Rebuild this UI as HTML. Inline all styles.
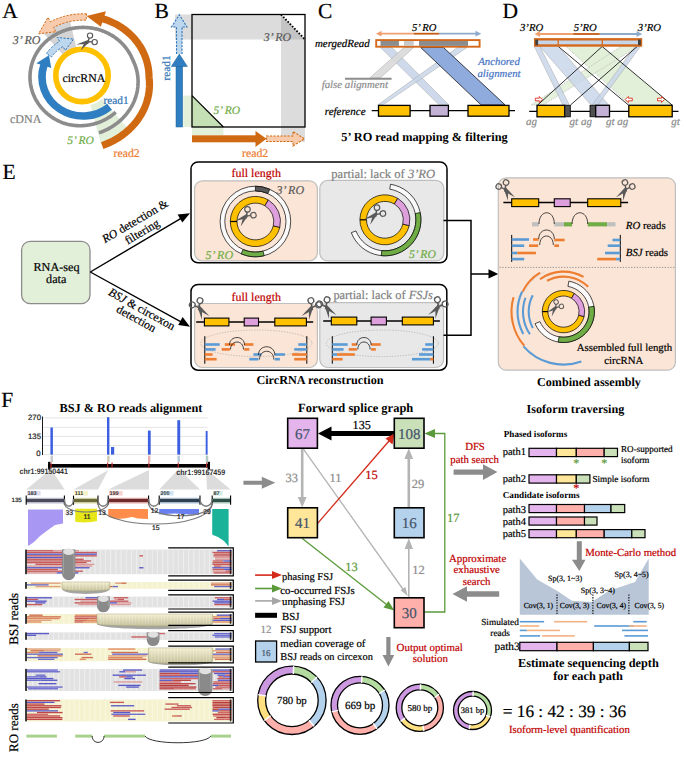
<!DOCTYPE html>
<html><head><meta charset="utf-8"><style>
html,body{margin:0;padding:0;background:#fff;width:686px;height:757px;overflow:hidden}
svg{display:block}
text{text-rendering:geometricPrecision}
</style></head><body>
<svg width="686" height="757" viewBox="0 0 686 757">
<defs>
<linearGradient id="ysemi" x1="0" y1="0" x2="0" y2="1"><stop offset="0" stop-color="#f3efcf"/><stop offset="1" stop-color="#c2be98"/></linearGradient>
<linearGradient id="gsemi" x1="0" y1="0" x2="0" y2="1"><stop offset="0" stop-color="#9a9a8a"/><stop offset="1" stop-color="#a6a6a6"/></linearGradient>
</defs>
<text stroke="#000" stroke-width="0.2" x="2.3" y="17.5" font-family="Liberation Serif" font-size="21.5">A</text>
<path d="M42.85,32.41 A60,60 0 0 1 69.50,18.54 L76.48,48.74 A29,29 0 0 0 63.60,55.45Z" fill="#d4d4d4"/>
<path d="M128.92,129.83 A70,70 0 0 1 101.12,144.61 L90.51,105.01 A29,29 0 0 0 102.03,98.89Z" fill="#e2f0d9"/>
<path d="M115.68,112.19 L115.06,112.75 L114.42,113.31 L113.77,113.86 L113.11,114.39 L112.44,114.92 L111.75,115.43 L111.06,115.94 L110.36,116.43 L109.65,116.91 L108.93,117.38 L108.20,117.84 L107.46,118.29 L106.71,118.73 L105.95,119.15 L105.18,119.56 L104.41,119.96 L103.62,120.35 L102.83,120.73 L102.03,121.09 L101.23,121.44 L100.41,121.77 L99.59,122.10 L98.77,122.41 L97.93,122.71 L97.09,122.99 L96.25,123.26 L95.39,123.52 L94.54,123.76 L93.67,123.99 L92.80,124.20 L91.93,124.41 L91.05,124.59 L90.17,124.76 L89.29,124.92 L88.40,125.07 L87.51,125.20 L86.61,125.31 L85.71,125.41 L84.81,125.50 L83.91,125.57 L83.00,125.62 L82.09,125.67 L81.18,125.69 L80.27,125.70 L79.36,125.70 L78.45,125.68 L77.54,125.65 L76.62,125.60 L75.71,125.54 L74.80,125.46 L73.89,125.37 L72.98,125.26 L72.07,125.13 L71.16,125.00 L70.25,124.84 L69.35,124.67 L68.45,124.49 L67.55,124.29 L66.65,124.08 L65.76,123.85 L64.87,123.61 L64.01,123.31 L63.15,122.99 L62.29,122.66 L61.44,122.31 L60.60,121.95 L59.77,121.58 L58.94,121.19 L58.12,120.79 L57.31,120.38 L56.50,119.95 L55.70,119.52 L54.91,119.06 L54.13,118.60 L53.36,118.12 L52.60,117.63 L51.85,117.13 L51.10,116.61 L50.37,116.09 L49.65,115.55 L48.93,115.00 L48.23,114.43 L47.54,113.86 L46.85,113.28 L46.18,112.68 L45.52,112.07 L44.87,111.46 L44.24,110.83 L43.61,110.19 L43.00,109.54 L42.40,108.88 L41.81,108.21 L41.24,107.54 L40.67,106.85 L40.12,106.15 L39.58,105.45 L39.06,104.74 L38.55,104.01 L38.05,103.28 L37.57,102.55 L37.10,101.80 L36.65,101.05 L36.20,100.29 L35.78,99.52 L35.36,98.74 L34.97,97.96 L34.58,97.17 L34.21,96.38 L33.86,95.58 L33.52,94.78 L33.20,93.96 L32.89,93.15 L32.59,92.33 L32.32,91.50 L32.05,90.67 L31.81,89.84 L31.57,89.00 L31.36,88.16 L31.16,87.31 L30.97,86.46 L30.81,85.61 L30.65,84.76 L30.52,83.90 L30.40,83.04 L30.29,82.18 L30.20,81.32 L30.13,80.46 L30.07,79.60 L30.03,78.73 L30.01,77.87 L30.00,77.00 L30.01,76.13 L30.03,75.27 L30.07,74.40 L30.13,73.54 L30.20,72.68 L30.29,71.82 L30.40,70.96 L30.52,70.10 L30.65,69.24 L30.81,68.39 L30.97,67.54 L31.16,66.69 L31.36,65.84 L31.57,65.00 L31.81,64.16 L32.05,63.33 L32.32,62.50 L32.59,61.67 L32.89,60.85 L33.20,60.04 L33.52,59.22 L33.86,58.42 L34.21,57.62 L34.58,56.83 L34.97,56.04 L35.36,55.26 L35.78,54.48 L36.20,53.71 L36.65,52.95 L37.10,52.20 L37.57,51.45 L38.05,50.72 L38.55,49.99 L39.06,49.26 L39.58,48.55 L40.12,47.85 L40.67,47.15 L41.24,46.46 L41.81,45.79 L42.40,45.12 L43.00,44.46 L43.61,43.81 L44.24,43.17 L44.87,42.54 L45.52,41.93 L46.18,41.32 L46.85,40.72 L47.54,40.14 L48.23,39.57 L48.93,39.00 L49.65,38.45 L50.37,37.91 L51.10,37.39 L51.85,36.87 L52.60,36.37 L53.36,35.88 L54.13,35.40 L54.91,34.94 L55.70,34.48 L56.50,34.05 L57.31,33.62 L58.12,33.21 L58.94,32.81 L59.77,32.42 L60.60,32.05 L61.44,31.69 L62.29,31.34 L63.15,31.01 L64.01,30.69 L64.87,30.39 L65.74,30.10 L66.62,29.83 L67.50,29.57 L68.39,29.32 L69.28,29.09 L70.18,28.87 L71.08,28.67 L71.98,28.48 L72.89,28.31 L73.80,28.15 L74.71,28.01 L75.62,27.88 L76.54,27.77 L77.46,27.67 L78.38,27.59 L79.30,27.52 L80.23,27.47 L81.15,27.43 L82.08,27.41 L83.00,27.40 L83.92,27.41 L84.85,27.43 L85.77,27.47 L86.70,27.52 L87.62,27.59 L88.54,27.67 L89.46,27.77 L90.38,27.88 L91.29,28.01 L92.20,28.15 L93.11,28.31 L94.02,28.48 L94.92,28.67 L95.82,28.87 L96.72,29.09 L97.61,29.32 L98.50,29.57 L99.38,29.83 L100.26,30.10 L101.13,30.39 L101.99,30.69 L102.85,31.01 L103.71,31.34 L104.56,31.69 L105.40,32.05 L106.23,32.42 L107.06,32.81 L107.88,33.21 L108.69,33.62 L109.50,34.05 L110.30,34.48 L111.09,34.94 L111.87,35.40 L112.64,35.88 L113.40,36.37 L114.15,36.87 L114.90,37.39 L115.63,37.91 L116.35,38.45 L117.07,39.00 L117.77,39.57 L118.46,40.14 L119.15,40.72 L119.82,41.32 L120.48,41.93 L121.13,42.54 L121.76,43.17 L122.39,43.81 L123.00,44.46 L123.60,45.12 L124.19,45.79 L124.76,46.46 L125.33,47.15 L125.88,47.85 L126.42,48.55 L126.94,49.26 L127.45,49.99 L127.95,50.72 L128.43,51.45 L128.90,52.20 L129.35,52.95 L129.80,53.71 L130.22,54.48 L130.64,55.26 L131.03,56.04 L131.42,56.83 L131.79,57.62 L132.14,58.42 L132.48,59.22 L132.80,60.04 L133.20,60.82 L133.58,61.62 L133.95,62.42 L134.30,63.23 L134.64,64.05 L134.96,64.88 L135.27,65.71 L135.56,66.54 L135.84,67.39 L136.10,68.24 L136.35,69.09 L136.58,69.95 L136.79,70.82 L136.99,71.69 L137.17,72.56 L137.34,73.44 L137.49,74.33 L137.62,75.21 L137.74,76.11 L137.84,77.00 L137.92,77.90 L137.99,78.80 L138.04,79.70 L138.07,80.60 L138.09,81.51 L138.09,82.42 L138.07,83.33 L138.04,84.24 L137.98,85.15 L137.91,86.06 L137.83,86.97 L137.72,87.89 L137.60,88.80 L137.46,89.71 L137.31,90.62 L137.13,91.53 L136.94,92.43 L136.73,93.34 L136.51,94.24 L136.26,95.14 L136.00,96.04 L135.73,96.94 L135.43,97.83 L135.12,98.72 L134.79,99.60 L134.44,100.48 L134.08,101.36 L133.70,102.23 L133.30,103.09 L132.89,103.95 L132.45,104.81 L132.01,105.66 L131.54,106.50 L131.06,107.34 L130.56,108.17 L130.05,108.99 L129.52,109.81 L128.97,110.61 L128.41,111.41 L127.83,112.20 L127.24,112.99 L126.63,113.76 L126.00,114.53 L125.36,115.29 L124.71,116.03 L124.04,116.77 L123.35,117.50 L122.65,118.21 L121.94,118.92 L121.21,119.62 L120.47,120.30 L119.71,120.97 L118.94,121.63 L118.16,122.28 L117.36,122.92 L116.55,123.55 L115.73,124.16 L114.89,124.76 L114.04,125.35 L113.18,125.92 L112.31,126.48 L111.43,127.03 L110.53,127.56 L109.62,128.08 L108.71,128.59 L107.78,129.08 L106.84,129.56 L105.89,130.02 L104.93,130.46 L103.96,130.89 L102.98,131.31 L101.99,131.71 L101.00,132.09 L99.99,132.46 L98.98,132.82" fill="none" stroke="#8c8c8c" stroke-width="3.6"/>
<circle cx="82" cy="75.4" r="26.2" fill="none" stroke="#ffc000" stroke-width="5.6"/>
<path d="M109.57,106.70 A41,39 0 0 1 44.01,64.95" fill="none" stroke="#2e7ec1" stroke-width="7.6"/>
<path d="M36.33,63.32 L49.01,55.19 L51.25,67.88Z" fill="#2e7ec1" stroke="none" stroke-width="0" stroke-linejoin="miter"/>
<path d="M46.44,53.46 L46.88,52.85 L47.32,52.25 L47.78,51.66 L48.25,51.08 L48.73,50.51 L49.22,49.94 L49.72,49.38 L50.23,48.83 L50.75,48.29 L51.28,47.75 L51.82,47.23 L52.37,46.72 L52.92,46.21 L53.49,45.71 L54.07,45.23 L54.65,44.75 L55.25,44.28 L55.85,43.82 L56.46,43.38 L57.08,42.94 L57.71,42.51 L58.34,42.10 L58.98,41.69 L59.63,41.30 L57.25,37.48 L73.57,39.05 L65.30,50.37 L62.92,46.56 L62.36,46.89 L61.81,47.24 L61.26,47.59 L60.72,47.96 L60.19,48.33 L59.67,48.71 L59.15,49.10 L58.64,49.50 L58.14,49.91 L57.64,50.32 L57.15,50.74 L56.67,51.18 L56.20,51.61 L55.74,52.06 L55.28,52.52 L54.83,52.98 L54.40,53.45 L53.97,53.92 L53.55,54.41 L53.13,54.90 L52.73,55.39 L52.34,55.90 L51.95,56.41 L51.58,56.92Z" fill="#bdd7ee" stroke="#2e75b6" stroke-width="1.0" stroke-dasharray="2.2,1.4" stroke-linejoin="miter"/>
<path d="M102.19,145.57 L103.44,145.12 L104.68,144.66 L105.92,144.17 L107.14,143.67 L108.34,143.15 L109.54,142.61 L110.72,142.05 L111.89,141.47 L113.05,140.88 L114.19,140.26 L115.32,139.63 L116.44,138.99 L117.54,138.32 L118.62,137.64 L119.69,136.94 L120.75,136.23 L121.79,135.50 L122.81,134.76 L123.82,134.00 L124.81,133.22 L125.78,132.43 L126.74,131.63 L127.68,130.81 L128.60,129.98 L129.50,129.14 L130.39,128.28 L131.26,127.41 L132.11,126.53 L132.94,125.64 L133.75,124.73 L134.54,123.81 L135.32,122.89 L136.07,121.95 L136.81,121.00 L137.52,120.04 L138.22,119.07 L138.89,118.09 L139.55,117.11 L140.19,116.11 L140.80,115.11 L141.40,114.09 L141.97,113.07 L142.52,112.05 L143.06,111.01 L143.57,109.97 L144.06,108.93 L144.53,107.88 L144.98,106.82 L145.40,105.76 L145.81,104.69 L146.20,103.62 L146.56,102.54 L146.90,101.46 L147.22,100.38 L147.52,99.30 L147.80,98.21 L148.06,97.12 L148.30,96.03 L148.51,94.93 L148.70,93.84 L148.87,92.75 L149.02,91.65 L149.15,90.55 L149.26,89.46 L149.35,88.37 L149.41,87.27 L149.46,86.18 L149.48,85.09 L149.49,84.00 L149.47,82.92 L149.43,81.83 L149.37,80.75 L149.29,79.67 L149.19,78.60 L149.07,77.53 L149.00,76.47 L148.98,75.40 L148.94,74.34 L148.88,73.28 L148.80,72.21 L148.70,71.15 L148.58,70.09 L148.44,69.04 L148.28,67.98 L148.09,66.93 L147.89,65.88 L147.68,64.84 L147.44,63.80 L147.18,62.76 L146.90,61.73 L146.60,60.70 L146.28,59.68 L145.95,58.66 L145.59,57.64 L145.21,56.64 L144.82,55.64 L144.41,54.64 L143.98,53.66 L143.53,52.68 L143.06,51.70 L142.57,50.74 L142.07,49.78 L141.54,48.83 L141.00,47.89 L140.44,46.96 L139.87,46.04 L139.27,45.13 L138.66,44.22 L138.04,43.33 L137.39,42.45 L136.73,41.58 L136.05,40.72 L135.36,39.87 L134.65,39.03 L133.93,38.20 L133.19,37.38 L132.43,36.58 L131.66,35.79 L130.87,35.01 L130.07,34.24 L129.26,33.49 L128.43,32.75 L127.59,32.03 L126.73,31.31 L125.86,30.62 L124.98,29.93 L124.09,29.26 L123.18,28.61 L122.26,27.96 L121.33,27.34 L120.38,26.73 L119.43,26.13 L118.46,25.55 L117.48,24.99 L116.50,24.44 L115.50,23.91 L114.49,23.39 L113.48,22.89 L112.45,22.41 L111.41,21.94 L110.37,21.49 L109.32,21.06 L108.26,20.64 L107.19,20.24 L106.11,19.86 L105.03,19.50 L103.94,19.15 L102.85,18.82 L101.75,18.51" fill="none" stroke="#d06a12" stroke-width="7.2"/>
<path d="M105.93,11.19 L86.45,16.08 L100.86,26.78Z" fill="#d06a12" stroke="none" stroke-width="0" stroke-linejoin="miter"/>
<path d="M86.52,13.89 L84.95,13.83 L83.39,13.80 L81.83,13.81 L80.26,13.85 L78.70,13.93 L77.14,14.04 L75.59,14.19 L74.03,14.36 L72.49,14.58 L70.95,14.83 L69.41,15.11 L67.88,15.42 L66.36,15.77 L64.85,16.15 L63.35,16.56 L61.86,17.01 L60.38,17.49 L58.92,18.00 L57.46,18.54 L56.02,19.12 L54.60,19.72 L53.19,20.36 L51.80,21.03 L50.42,21.72 L48.00,17.35 L38.54,33.84 L55.95,31.69 L53.52,27.32 L54.77,26.69 L56.03,26.09 L57.30,25.52 L58.59,24.98 L59.90,24.46 L61.21,23.97 L62.54,23.51 L63.88,23.08 L65.22,22.68 L66.58,22.31 L67.95,21.97 L69.32,21.66 L70.71,21.37 L72.09,21.12 L73.49,20.90 L74.89,20.71 L76.29,20.55 L77.70,20.42 L79.11,20.32 L80.52,20.25 L81.94,20.21 L83.35,20.20 L84.77,20.22 L86.18,20.28Z" fill="#f8cbad" stroke="#d06a12" stroke-width="1.0" stroke-dasharray="2.2,1.4" stroke-linejoin="miter"/>
<g transform="translate(87,42) rotate(0) scale(1.05,1.05)"><path d="M2.2,-2.4 L-10.2,2.3 L1.2,1.8Z" fill="#595959"/><path d="M2.8,-0.6 L-5.9,8.1 L-1.8,-0.6Z" fill="#595959"/><path d="M1.2,-1 L2.2,-4 M1,-0.2 L5.2,-0.1" stroke="#595959" stroke-width="1.3"/><circle cx="2.9" cy="-6.1" r="2.5" fill="none" stroke="#595959" stroke-width="1.1"/><circle cx="7.3" cy="0.1" r="2.5" fill="none" stroke="#595959" stroke-width="1.1"/></g>
<text stroke="#595959" stroke-width="0.2" x="12.8" y="44.3" font-family="Liberation Serif" font-style="italic" font-size="12" fill="#595959">3’ RO</text>
<text stroke="#000" stroke-width="0.2" x="62.4" y="82" font-family="Liberation Serif" font-size="11.9">circRNA</text>
<text stroke="#2e75b6" stroke-width="0.2" x="103.5" y="103.6" font-family="Liberation Serif" font-size="11.3" fill="#2e75b6">read1</text>
<text stroke="#7f7f7f" stroke-width="0.2" x="10" y="122.6" font-family="Liberation Serif" font-size="12" fill="#7f7f7f">cDNA</text>
<text stroke="#70ad47" stroke-width="0.2" x="67.3" y="144.4" font-family="Liberation Serif" font-style="italic" font-size="11.5" fill="#70ad47">5’ RO</text>
<text stroke="#ed7d31" stroke-width="0.2" x="113.5" y="157.3" font-family="Liberation Serif" font-size="11.8" fill="#ed7d31">read2</text>
<text stroke="#000" stroke-width="0.2" x="154.6" y="17.8" font-family="Liberation Serif" font-size="21.5">B</text>
<rect x="175" y="14.5" width="130" height="25" fill="#dcdcdc"/>
<rect x="281" y="14.5" width="24" height="127.5" fill="#dcdcdc"/>
<rect x="281" y="14.5" width="24" height="25" fill="#c4c4c4"/>
<path d="M281,14.5 L305,14.5 L305,39.5Z" fill="#ffffff"/>
<rect x="183.3" y="95.6" width="9" height="31.4" fill="#e2f0d9"/>
<rect x="192" y="127" width="31.4" height="8" fill="#e2f0d9"/>
<path d="M192,95.6 L192,127 L223.4,127Z" fill="#c5e0b4"/>
<line x1="192" y1="95.6" x2="223.4" y2="127" stroke="#000" stroke-width="1.2"/>
<rect x="192" y="14.5" width="113" height="112.5" fill="none" stroke="#000" stroke-width="1.3"/>
<line x1="281" y1="14.5" x2="305" y2="39.5" stroke="#000" stroke-width="1.9" stroke-dasharray="1.6,1.6"/>
<rect x="176" y="66" width="6.6" height="61" fill="#2e7ec1" stroke="#1f5f96" stroke-width="0.5"/>
<path d="M171.3,66.5 L179.3,54 L187.4,66.5Z" fill="#2e7ec1" stroke="#1f5f96" stroke-width="0.5"/>
<path d="M176.5,54 L176.5,27 L171.5,27 L179.3,14.8 L187,27 L182,27 L182,54" fill="#bdd7ee" stroke="#2e75b6" stroke-width="1.1" stroke-dasharray="2.2,1.3"/>
<text stroke="#2e75b6" stroke-width="0.2" transform="translate(169.8,80.5) rotate(-90)" font-family="Liberation Serif" font-size="11.3" fill="#2e75b6">read1</text>
<rect x="192" y="135.3" width="64" height="7" fill="#d06a12"/>
<path d="M255.5,131 L266.5,138.8 L255.5,147Z" fill="#d06a12"/>
<path d="M266.5,136 L293,136 L293,131.5 L304.5,138.8 L293,146 L293,141.5 L266.5,141.5Z" fill="#f8cbad" stroke="#d06a12" stroke-width="1.1" stroke-dasharray="2.2,1.3"/>
<text stroke="#595959" stroke-width="0.2" x="263.8" y="40.5" font-family="Liberation Serif" font-style="italic" font-size="11.9" fill="#595959">3’ RO</text>
<text stroke="#70ad47" stroke-width="0.2" x="213.6" y="114.2" font-family="Liberation Serif" font-style="italic" font-size="11.5" fill="#70ad47">5’ RO</text>
<text stroke="#ed7d31" stroke-width="0.2" x="242" y="157.3" font-family="Liberation Serif" font-size="11.8" fill="#ed7d31">read2</text>
<text stroke="#000" stroke-width="0.2" x="318" y="17.8" font-family="Liberation Serif" font-size="21.5">C</text>
<path d="M380.5,47.5 L392.0,47.5 L448.7,104.8 L439.0,104.8Z" fill="#c9d6ea" fill-opacity="0.9" stroke="#a6a6a6" stroke-width="0.5"/>
<path d="M404.0,47.5 L413.7,47.5 L380.5,77.7 L370.0,77.7Z" fill="#d9d9d9" fill-opacity="0.9" stroke="#a6a6a6" stroke-width="0.5"/>
<path d="M457.5,47.5 L467.0,47.5 L383.0,104.8 L378.0,104.8Z" fill="#c9d6ea" fill-opacity="0.85" stroke="#a6a6a6" stroke-width="0.5"/>
<path d="M420.7,47.5 L443.5,47.5 L505.0,104.8 L481.0,104.8Z" fill="#8faadc" fill-opacity="1" stroke="#000" stroke-width="0.7"/>
<line x1="345" y1="78.8" x2="391.6" y2="78.8" stroke="#8c8c8c" stroke-width="2"/>
<line x1="379" y1="33.7" x2="413.7" y2="33.7" stroke="#f0a070" stroke-width="1.8"/>
<path d="M376,33.7 L381.5,30.8 L381.5,36.6Z" fill="#f0a070"/>
<line x1="413.7" y1="33.7" x2="439" y2="33.7" stroke="#c55a11" stroke-width="1.8"/>
<line x1="439" y1="33.7" x2="477" y2="33.7" stroke="#8eaacb" stroke-width="1.8"/>
<path d="M481.2,33.7 L475.5,30.8 L475.5,36.6Z" fill="#8eaacb"/>
<text stroke="#000" stroke-width="0.2" x="412" y="30.8" font-family="Liberation Serif" font-style="italic" font-size="10.6">5’ RO</text>
<rect x="376.2" y="40.1" width="103.4" height="6.6" fill="#fff" stroke="#d4691c" stroke-width="1.9"/>
<rect x="380.5" y="41" width="18.4" height="4.9" fill="#8c8c8c"/>
<rect x="404" y="41" width="9.7" height="4.9" fill="#c8c8c8"/>
<rect x="419" y="41" width="49" height="4.9" fill="#8c8c8c"/>
<text stroke="#000" stroke-width="0.2" x="315" y="46.5" font-family="Liberation Serif" font-style="italic" font-size="10.9">mergedRead</text>
<text stroke="#8c8c8c" stroke-width="0.2" x="321.7" y="88" font-family="Liberation Serif" font-style="italic" font-size="10.8" fill="#8c8c8c">false alignment</text>
<line x1="371.7" y1="110.6" x2="515" y2="110.6" stroke="#000" stroke-width="1.3"/>
<rect x="378.5" y="105.4" width="31.6" height="10.8" fill="#ffc000" stroke="#000" stroke-width="1.3"/>
<rect x="430" y="105.4" width="18.4" height="10.8" fill="#c3b1d6" stroke="#000" stroke-width="1.3"/>
<rect x="468" y="105.4" width="41" height="10.8" fill="#ffc000" stroke="#000" stroke-width="1.3"/>
<text stroke="#000" stroke-width="0.2" x="324.8" y="115" font-family="Liberation Serif" font-style="italic" font-size="11">reference</text>
<text stroke="#4472c4" stroke-width="0.2" x="499" y="65" font-family="Liberation Serif" font-style="italic" font-size="10.8" fill="#4472c4" text-anchor="middle">Anchored</text>
<text stroke="#4472c4" stroke-width="0.2" x="499" y="76.5" font-family="Liberation Serif" font-style="italic" font-size="10.8" fill="#4472c4" text-anchor="middle">alignment</text>
<text x="424.5" y="141.4" font-family="Liberation Serif" font-weight="bold" font-size="12.34" text-anchor="middle">5’ RO read mapping &amp; filtering</text>
<text stroke="#000" stroke-width="0.2" x="502.5" y="17.8" font-family="Liberation Serif" font-size="21.5">D</text>
<path d="M566.0,46.5 L602.2,46.5 L672.1,105.0 L630.0,105.0Z" fill="#e2f0d9" fill-opacity="1" stroke="none" stroke-width="0"/>
<line x1="566" y1="46.5" x2="630" y2="105" stroke="#a0a0a0" stroke-width="0.6" stroke-dasharray="1,1"/>
<path d="M621.0,46.5 L638.0,46.5 L543.0,105.0 L531.0,105.0Z" fill="#e2f0d9" fill-opacity="0.9" stroke="#a0a0a0" stroke-width="0.6" stroke-dasharray="1,1"/>
<path d="M534.4,46.5 L539.8,46.5 L569.4,105.0 L562.8,105.0Z" fill="#c9d6ea" fill-opacity="0.85" stroke="#a6a6a6" stroke-width="0.5"/>
<path d="M539.8,46.5 L558.4,46.5 L608.7,105.0 L591.0,105.0Z" fill="#c9d6ea" fill-opacity="0.85" stroke="#a6a6a6" stroke-width="0.5"/>
<path d="M635.0,46.5 L640.4,46.5 L597.8,105.0 L592.3,105.0Z" fill="#c9d6ea" fill-opacity="0.85" stroke="#a6a6a6" stroke-width="0.5"/>
<line x1="558.4" y1="46.5" x2="628.4" y2="105" stroke="#000" stroke-width="0.8"/>
<line x1="602.2" y1="46.5" x2="672.1" y2="105" stroke="#000" stroke-width="0.8"/>
<line x1="602.2" y1="46.5" x2="537.7" y2="105" stroke="#000" stroke-width="0.8"/>
<line x1="637.2" y1="46.5" x2="570.5" y2="105" stroke="#000" stroke-width="0.8"/>
<line x1="538" y1="34" x2="573.2" y2="34" stroke="#f0a070" stroke-width="1.8"/>
<path d="M534.5,34 L540,31.1 L540,36.9Z" fill="#f0a070"/>
<line x1="573.2" y1="34" x2="599.8" y2="34" stroke="#c55a11" stroke-width="1.8"/>
<line x1="599.8" y1="34" x2="638" y2="34" stroke="#8eaacb" stroke-width="1.8"/>
<path d="M642.2,34 L636.5,31.1 L636.5,36.9Z" fill="#8eaacb"/>
<rect x="535.2" y="39.3" width="105.8" height="6.2" fill="#c5d5ea" stroke="#d4691c" stroke-width="2.4"/>
<rect x="535.3" y="39.6" width="2.8" height="5.6" fill="#404040"/>
<rect x="638" y="39.6" width="2.8" height="5.6" fill="#404040"/>
<line x1="558.2" y1="39" x2="558.2" y2="46" stroke="#d4691c" stroke-width="1.3"/>
<line x1="602.3" y1="39" x2="602.3" y2="46" stroke="#d4691c" stroke-width="1.3"/>
<text stroke="#000" stroke-width="0.2" x="520" y="30.9" font-family="Liberation Serif" font-style="italic" font-size="10.7">3’RO</text>
<text stroke="#000" stroke-width="0.2" x="573.7" y="30.9" font-family="Liberation Serif" font-style="italic" font-size="10.7">5’RO</text>
<text stroke="#000" stroke-width="0.2" x="637.8" y="30.9" font-family="Liberation Serif" font-style="italic" font-size="10.7">3’RO</text>
<line x1="529.2" y1="111.3" x2="678.5" y2="111.3" stroke="#000" stroke-width="1.3"/>
<rect x="537" y="105.3" width="27.8" height="11.5" fill="#ffc000" stroke="#000" stroke-width="1.3"/>
<rect x="564.8" y="105.3" width="5.5" height="11.5" fill="#505050" stroke="#000" stroke-width="0.8"/>
<rect x="590" y="105.3" width="5.7" height="11.5" fill="#505050" stroke="#000" stroke-width="0.8"/>
<rect x="595.7" y="105.3" width="13.8" height="11.5" fill="#c3b1d6" stroke="#000" stroke-width="1.3"/>
<rect x="628.8" y="105.3" width="43.4" height="11.5" fill="#ffc000" stroke="#000" stroke-width="1.3"/>
<path d="M535.3,98.2 L539.3,98.2 L539.3,96.5 L542.3,99.5 L539.3,102.5 L539.3,100.8 L535.3,100.8Z" fill="#fff" stroke="#e03020" stroke-width="0.9"/>
<path d="M632.3,98.2 L628.3,98.2 L628.3,96.5 L625.3,99.5 L628.3,102.5 L628.3,100.8 L632.3,100.8Z" fill="#fff" stroke="#e03020" stroke-width="0.9"/>
<path d="M657.5,98.2 L661.5,98.2 L661.5,96.5 L664.5,99.5 L661.5,102.5 L661.5,100.8 L657.5,100.8Z" fill="#fff" stroke="#e03020" stroke-width="0.9"/>
<text stroke="#8c8c8c" stroke-width="0.2" x="526" y="125.2" font-family="Liberation Serif" font-style="italic" font-size="11" fill="#8c8c8c">ag</text>
<text stroke="#8c8c8c" stroke-width="0.2" x="569.6" y="125.2" font-family="Liberation Serif" font-style="italic" font-size="11" fill="#8c8c8c">gt ag</text>
<text stroke="#8c8c8c" stroke-width="0.2" x="605.9" y="125.2" font-family="Liberation Serif" font-style="italic" font-size="11" fill="#8c8c8c">gt ag</text>
<text stroke="#8c8c8c" stroke-width="0.2" x="671.2" y="125.2" font-family="Liberation Serif" font-style="italic" font-size="11" fill="#8c8c8c">gt</text>
<text stroke="#000" stroke-width="0.2" x="2.5" y="179.2" font-family="Liberation Serif" font-size="21.5">E</text>
<rect x="21.6" y="241.4" width="68.4" height="62.2" rx="8.5" fill="#e2efd9" stroke="#8c8c8c" stroke-width="1.3"/>
<text stroke="#000" stroke-width="0.2" x="56.5" y="270.8" font-family="Liberation Serif" font-size="12.2" text-anchor="middle">RNA-seq</text>
<text stroke="#000" stroke-width="0.2" x="56.2" y="283.4" font-family="Liberation Serif" font-size="12.2" text-anchor="middle">data</text>
<line x1="90.3" y1="272" x2="181" y2="218.4" stroke="#000" stroke-width="1.4"/>
<path d="M190,213.2 L177.6,214.5 L182.3,222.4Z" fill="#000"/>
<line x1="90.3" y1="272" x2="181" y2="321.8" stroke="#000" stroke-width="1.4"/>
<path d="M190,326.8 L182.6,316.9 L178.2,324.9Z" fill="#000"/>
<text stroke="#000" stroke-width="0.2" transform="translate(137,224.5) rotate(-30.5)" font-family="Liberation Serif" font-size="11.8" text-anchor="middle"><tspan font-style="italic">RO</tspan> detection &amp;</text>
<text stroke="#000" stroke-width="0.2" transform="translate(144,235) rotate(-30.5)" font-family="Liberation Serif" font-size="11.8" text-anchor="middle">filtering</text>
<text stroke="#000" stroke-width="0.2" transform="translate(140,312.5) rotate(29)" font-family="Liberation Serif" font-size="11.8" text-anchor="middle"><tspan font-style="italic">BSJ</tspan> &amp; circexon</text>
<text stroke="#000" stroke-width="0.2" transform="translate(134.5,322) rotate(29)" font-family="Liberation Serif" font-size="11.8" text-anchor="middle">detection</text>
<rect x="191" y="162" width="256" height="100.8" rx="7" fill="#fff" stroke="#000" stroke-width="1.5"/>
<rect x="194.6" y="180.8" width="122.8" height="80" rx="8" fill="#fbe5d6" stroke="#bfbfbf" stroke-width="1.2"/>
<rect x="319.8" y="180.4" width="124" height="80.5" rx="8" fill="#e8e8e8" stroke="#bfbfbf" stroke-width="1.2"/>
<text stroke="#c00000" stroke-width="0.2" x="231.5" y="177" font-family="Liberation Serif" font-size="11.96" fill="#c00000">full length</text>
<text stroke="#7f7f7f" stroke-width="0.2" x="331.3" y="178" font-family="Liberation Serif" font-size="12.6" fill="#7f7f7f">partial: lack of <tspan font-style="italic">3’RO</tspan></text>
<circle cx="255.4" cy="221.5" r="32.95" fill="none" stroke="#fafafa" stroke-width="4.7"/>
<circle cx="255.4" cy="221.5" r="35.3" fill="none" stroke="#000" stroke-width="0.7"/>
<circle cx="255.4" cy="221.5" r="30.6" fill="none" stroke="#000" stroke-width="0.7"/>
<path d="M255.40,186.20 A35.3,35.3 0 0 1 269.76,189.25 L267.85,193.55 A30.6,30.6 0 0 0 255.40,190.90Z" fill="#595959" stroke="#000" stroke-width="0.7"/>
<path d="M264.18,255.69 A35.3,35.3 0 0 1 241.15,253.80 L243.05,249.50 A30.6,30.6 0 0 0 263.01,251.14Z" fill="#70ad47" stroke="#000" stroke-width="0.7"/>
<path d="M279.81,227.36 A25.1,25.1 0 1 1 268.29,199.96 L264.85,205.71 A18.4,18.4 0 1 0 273.29,225.80Z" fill="#ffc000" stroke="#000" stroke-width="0.7"/>
<path d="M268.33,199.99 A25.1,25.1 0 0 1 279.81,227.36 L273.29,225.80 A18.4,18.4 0 0 0 264.88,205.73Z" fill="#dda0dd" stroke="#000" stroke-width="0.7"/>
<line x1="230.3" y1="221.5" x2="237.0" y2="221.5" stroke="#000" stroke-width="1.2"/>
<g transform="translate(245.5,216.5) rotate(-10) scale(1.1,1.1)"><path d="M2.2,-2.4 L-10.2,2.3 L1.2,1.8Z" fill="#595959"/><path d="M2.8,-0.6 L-5.9,8.1 L-1.8,-0.6Z" fill="#595959"/><path d="M1.2,-1 L2.2,-4 M1,-0.2 L5.2,-0.1" stroke="#595959" stroke-width="1.3"/><circle cx="2.9" cy="-6.1" r="2.5" fill="none" stroke="#595959" stroke-width="1.1"/><circle cx="7.3" cy="0.1" r="2.5" fill="none" stroke="#595959" stroke-width="1.1"/></g>
<text stroke="#595959" stroke-width="0.2" x="276.4" y="193.8" font-family="Liberation Serif" font-style="italic" font-size="12" fill="#595959">3’ RO</text>
<text stroke="#70ad47" stroke-width="0.2" x="205.4" y="258.7" font-family="Liberation Serif" font-style="italic" font-size="12" fill="#70ad47">5’ RO</text>
<path d="M390.53,184.24 A36,36 0 1 1 351.29,232.70 L355.96,230.91 A31,31 0 1 0 389.75,189.18Z" fill="#fafafa" stroke="#000" stroke-width="0.7"/>
<path d="M420.16,212.56 A36,36 0 0 1 381.26,255.62 L381.77,250.64 A31,31 0 0 0 415.27,213.57Z" fill="#70ad47" stroke="#000" stroke-width="0.7"/>
<path d="M409.21,225.64 A25,25 0 1 1 397.74,198.35 L394.35,204.01 A18.4,18.4 0 1 0 402.79,224.10Z" fill="#ffc000" stroke="#000" stroke-width="0.7"/>
<path d="M397.78,198.37 A25,25 0 0 1 409.21,225.64 L402.79,224.10 A18.4,18.4 0 0 0 394.38,204.03Z" fill="#dda0dd" stroke="#000" stroke-width="0.7"/>
<line x1="359.9" y1="219.8" x2="366.5" y2="219.8" stroke="#000" stroke-width="1.2"/>
<g transform="translate(375,214.8) rotate(-10) scale(1.1,1.1)"><path d="M2.2,-2.4 L-10.2,2.3 L1.2,1.8Z" fill="#595959"/><path d="M2.8,-0.6 L-5.9,8.1 L-1.8,-0.6Z" fill="#595959"/><path d="M1.2,-1 L2.2,-4 M1,-0.2 L5.2,-0.1" stroke="#595959" stroke-width="1.3"/><circle cx="2.9" cy="-6.1" r="2.5" fill="none" stroke="#595959" stroke-width="1.1"/><circle cx="7.3" cy="0.1" r="2.5" fill="none" stroke="#595959" stroke-width="1.1"/></g>
<text stroke="#70ad47" stroke-width="0.2" x="408.9" y="258" font-family="Liberation Serif" font-style="italic" font-size="11.7" fill="#70ad47">5’ RO</text>
<rect x="191" y="284.4" width="255.8" height="85.8" rx="7" fill="#fff" stroke="#000" stroke-width="1.5"/>
<rect x="194.6" y="303.5" width="122.8" height="64" rx="8" fill="#fbe5d6" stroke="#bfbfbf" stroke-width="1.2"/>
<rect x="319.8" y="302.7" width="123.8" height="64.8" rx="8" fill="#e8e8e8" stroke="#bfbfbf" stroke-width="1.2"/>
<text stroke="#c00000" stroke-width="0.2" x="231.5" y="300.9" font-family="Liberation Serif" font-size="11.96" fill="#c00000">full length</text>
<text stroke="#7f7f7f" stroke-width="0.2" x="333.4" y="299.4" font-family="Liberation Serif" font-size="12.4" fill="#7f7f7f">partial: lack of <tspan font-style="italic">FSJs</tspan></text>
<line x1="196.2" y1="321.9" x2="313.2" y2="321.9" stroke="#000" stroke-width="1.5"/>
<rect x="204.4" y="318.09999999999997" width="24.5" height="7.8" fill="#ffc000" stroke="#000" stroke-width="1.1"/>
<rect x="244.2" y="318.09999999999997" width="14.300000000000011" height="7.8" fill="#dda0dd" stroke="#000" stroke-width="1.1"/>
<rect x="274.8" y="318.09999999999997" width="31.599999999999966" height="7.8" fill="#ffc000" stroke="#000" stroke-width="1.1"/>
<g transform="translate(199.9,308.4) rotate(26) scale(-1.15,1.15)"><path d="M2.2,-2.4 L-10.2,2.3 L1.2,1.8Z" fill="#595959"/><path d="M2.8,-0.6 L-5.9,8.1 L-1.8,-0.6Z" fill="#595959"/><path d="M1.2,-1 L2.2,-4 M1,-0.2 L5.2,-0.1" stroke="#595959" stroke-width="1.3"/><circle cx="2.9" cy="-6.1" r="2.5" fill="none" stroke="#595959" stroke-width="1.1"/><circle cx="7.3" cy="0.1" r="2.5" fill="none" stroke="#595959" stroke-width="1.1"/></g>
<g transform="translate(311,308.4) rotate(-26) scale(1.15,1.15)"><path d="M2.2,-2.4 L-10.2,2.3 L1.2,1.8Z" fill="#595959"/><path d="M2.8,-0.6 L-5.9,8.1 L-1.8,-0.6Z" fill="#595959"/><path d="M1.2,-1 L2.2,-4 M1,-0.2 L5.2,-0.1" stroke="#595959" stroke-width="1.3"/><circle cx="2.9" cy="-6.1" r="2.5" fill="none" stroke="#595959" stroke-width="1.1"/><circle cx="7.3" cy="0.1" r="2.5" fill="none" stroke="#595959" stroke-width="1.1"/></g>
<ellipse cx="256.4" cy="343.3" rx="55.6" ry="13.3" fill="none" stroke="#a6a6a6" stroke-width="0.6" stroke-dasharray="1.5,1.2"/>
<line x1="204.8" y1="336.2" x2="204.8" y2="363.7" stroke="#000" stroke-width="1"/>
<line x1="306.8" y1="336.2" x2="306.8" y2="363.7" stroke="#000" stroke-width="1"/>
<rect x="204.8" y="343.2" width="14.899999999999977" height="2.6" fill="#5b9bd5"/>
<rect x="204.8" y="348.09999999999997" width="10.799999999999983" height="2.6" fill="#5b9bd5"/>
<rect x="204.8" y="353.2" width="7.799999999999983" height="2.6" fill="#ed7d31"/>
<rect x="204.8" y="357.9" width="11.799999999999983" height="2.6" fill="#ed7d31"/>
<rect x="224.8" y="343.2" width="10.199999999999989" height="2.6" fill="#ed7d31"/>
<rect x="221.7" y="348.09999999999997" width="8.200000000000017" height="2.6" fill="#ed7d31"/>
<rect x="244.2" y="343.2" width="9.200000000000017" height="2.6" fill="#ed7d31"/>
<rect x="244.2" y="348.09999999999997" width="5.100000000000023" height="2.6" fill="#ed7d31"/>
<path d="M229.5,345.0 C229.5,335 244.5,335 244.5,345.0" fill="none" stroke="#000" stroke-width="0.7"/>
<path d="M230.5,349.5 C230.5,339.5 243.5,339.5 243.5,349.5" fill="none" stroke="#000" stroke-width="0.7"/>
<rect x="253.4" y="353.2" width="8.099999999999994" height="2.6" fill="#5b9bd5"/>
<rect x="249.3" y="357.9" width="9.199999999999989" height="2.6" fill="#5b9bd5"/>
<rect x="274.8" y="353.2" width="10.199999999999989" height="2.6" fill="#5b9bd5"/>
<rect x="274.8" y="357.9" width="5.099999999999966" height="2.6" fill="#5b9bd5"/>
<path d="M258.5,355.0 C258.5,344 274.8,344 274.8,355.0" fill="none" stroke="#000" stroke-width="0.7"/>
<path d="M259.5,359.5 C259.5,348.5 273.8,348.5 273.8,359.5" fill="none" stroke="#000" stroke-width="0.7"/>
<rect x="298.3" y="343.2" width="8.5" height="2.6" fill="#5b9bd5"/>
<rect x="294.2" y="348.09999999999997" width="12.600000000000023" height="2.6" fill="#5b9bd5"/>
<rect x="292.1" y="353.2" width="14.699999999999989" height="2.6" fill="#ed7d31"/>
<rect x="294.2" y="357.9" width="12.600000000000023" height="2.6" fill="#ed7d31"/>
<line x1="323.2" y1="320.9" x2="439.9" y2="320.9" stroke="#000" stroke-width="1.5"/>
<rect x="331.3" y="317.09999999999997" width="25.5" height="7.8" fill="#ffc000" stroke="#000" stroke-width="1.1"/>
<rect x="371.1" y="317.09999999999997" width="15.299999999999955" height="7.8" fill="#dda0dd" stroke="#000" stroke-width="1.1"/>
<rect x="402.3" y="317.09999999999997" width="31.099999999999966" height="7.8" fill="#ffc000" stroke="#000" stroke-width="1.1"/>
<g transform="translate(327,307.5) rotate(26) scale(-1.15,1.15)"><path d="M2.2,-2.4 L-10.2,2.3 L1.2,1.8Z" fill="#595959"/><path d="M2.8,-0.6 L-5.9,8.1 L-1.8,-0.6Z" fill="#595959"/><path d="M1.2,-1 L2.2,-4 M1,-0.2 L5.2,-0.1" stroke="#595959" stroke-width="1.3"/><circle cx="2.9" cy="-6.1" r="2.5" fill="none" stroke="#595959" stroke-width="1.1"/><circle cx="7.3" cy="0.1" r="2.5" fill="none" stroke="#595959" stroke-width="1.1"/></g>
<g transform="translate(437.5,307.5) rotate(-26) scale(1.15,1.15)"><path d="M2.2,-2.4 L-10.2,2.3 L1.2,1.8Z" fill="#595959"/><path d="M2.8,-0.6 L-5.9,8.1 L-1.8,-0.6Z" fill="#595959"/><path d="M1.2,-1 L2.2,-4 M1,-0.2 L5.2,-0.1" stroke="#595959" stroke-width="1.3"/><circle cx="2.9" cy="-6.1" r="2.5" fill="none" stroke="#595959" stroke-width="1.1"/><circle cx="7.3" cy="0.1" r="2.5" fill="none" stroke="#595959" stroke-width="1.1"/></g>
<ellipse cx="382.3" cy="343.3" rx="56" ry="13.3" fill="none" stroke="#a6a6a6" stroke-width="0.6" stroke-dasharray="1.5,1.2"/>
<line x1="332.3" y1="336.2" x2="332.3" y2="363.7" stroke="#000" stroke-width="1"/>
<line x1="433.4" y1="336.2" x2="433.4" y2="363.7" stroke="#000" stroke-width="1"/>
<rect x="332.3" y="343.2" width="15.399999999999977" height="2.6" fill="#5b9bd5"/>
<rect x="332.3" y="348.09999999999997" width="11.300000000000011" height="2.6" fill="#5b9bd5"/>
<rect x="332.3" y="353.2" width="4.699999999999989" height="2.6" fill="#5b9bd5"/>
<rect x="337" y="353.2" width="17.80000000000001" height="2.6" fill="#ed7d31"/>
<rect x="332.3" y="357.9" width="10.300000000000011" height="2.6" fill="#ed7d31"/>
<rect x="351.7" y="343.2" width="5.100000000000023" height="2.6" fill="#ed7d31"/>
<rect x="348.7" y="348.09999999999997" width="8.100000000000023" height="2.6" fill="#ed7d31"/>
<rect x="371.1" y="343.2" width="9.599999999999966" height="2.6" fill="#ed7d31"/>
<rect x="371.1" y="348.09999999999997" width="4.699999999999989" height="2.6" fill="#ed7d31"/>
<path d="M356.8,345.0 C356.8,335 371.1,335 371.1,345.0" fill="none" stroke="#000" stroke-width="0.7"/>
<path d="M357.8,349.5 C357.8,339.5 370.1,339.5 370.1,349.5" fill="none" stroke="#000" stroke-width="0.7"/>
<rect x="425.2" y="343.2" width="8.199999999999989" height="2.6" fill="#5b9bd5"/>
<rect x="422.1" y="348.09999999999997" width="11.299999999999955" height="2.6" fill="#5b9bd5"/>
<rect x="419.1" y="353.2" width="14.299999999999955" height="2.6" fill="#5b9bd5"/>
<rect x="412" y="357.9" width="18.30000000000001" height="2.6" fill="#5b9bd5"/>
<rect x="430.3" y="357.9" width="3.099999999999966" height="2.6" fill="#ed7d31"/>
<text x="320" y="384" font-family="Liberation Serif" font-weight="bold" font-size="12.2" text-anchor="middle">CircRNA reconstruction</text>
<path d="M443.5,220.4 L471,220.4 L471,335.2 L443.5,335.2 M471,273.9 L489,273.9" fill="none" stroke="#000" stroke-width="1.5"/>
<path d="M498.3,273.9 L488.5,269.2 L488.5,278.6Z" fill="#000"/>
<rect x="498.3" y="177.8" width="177.1" height="192.4" rx="8" fill="#fbe5d6" stroke="#bfbfbf" stroke-width="1.2"/>
<line x1="503.4" y1="202.6" x2="628.1" y2="202.6" stroke="#000" stroke-width="1.5"/>
<rect x="511.7" y="198.79999999999998" width="27.000000000000057" height="7.8" fill="#ffc000" stroke="#000" stroke-width="1.1"/>
<rect x="554.3" y="198.79999999999998" width="15.900000000000091" height="7.8" fill="#dda0dd" stroke="#000" stroke-width="1.1"/>
<rect x="587.7" y="198.79999999999998" width="33.09999999999991" height="7.8" fill="#ffc000" stroke="#000" stroke-width="1.1"/>
<g transform="translate(506,190) rotate(26) scale(-1.1,1.1)"><path d="M2.2,-2.4 L-10.2,2.3 L1.2,1.8Z" fill="#595959"/><path d="M2.8,-0.6 L-5.9,8.1 L-1.8,-0.6Z" fill="#595959"/><path d="M1.2,-1 L2.2,-4 M1,-0.2 L5.2,-0.1" stroke="#595959" stroke-width="1.3"/><circle cx="2.9" cy="-6.1" r="2.5" fill="none" stroke="#595959" stroke-width="1.1"/><circle cx="7.3" cy="0.1" r="2.5" fill="none" stroke="#595959" stroke-width="1.1"/></g>
<g transform="translate(625,190) rotate(-26) scale(1.1,1.1)"><path d="M2.2,-2.4 L-10.2,2.3 L1.2,1.8Z" fill="#595959"/><path d="M2.8,-0.6 L-5.9,8.1 L-1.8,-0.6Z" fill="#595959"/><path d="M1.2,-1 L2.2,-4 M1,-0.2 L5.2,-0.1" stroke="#595959" stroke-width="1.3"/><circle cx="2.9" cy="-6.1" r="2.5" fill="none" stroke="#595959" stroke-width="1.1"/><circle cx="7.3" cy="0.1" r="2.5" fill="none" stroke="#595959" stroke-width="1.1"/></g>
<rect x="532" y="222.20000000000002" width="7" height="4.2" fill="#bfbfbf"/>
<rect x="554.3" y="222.20000000000002" width="9.700000000000045" height="4.2" fill="#bfbfbf"/>
<rect x="564" y="222.20000000000002" width="8.100000000000023" height="4.2" fill="#70ad47"/>
<rect x="587.7" y="222.20000000000002" width="19.5" height="4.2" fill="#70ad47"/>
<rect x="607.2" y="222.20000000000002" width="8.299999999999955" height="4.2" fill="#bfbfbf"/>
<path d="M539,224 C539,209 554.3,209 554.3,224" fill="none" stroke="#000" stroke-width="0.7"/>
<path d="M572.1,224 C572.1,209 587.7,209 587.7,224" fill="none" stroke="#000" stroke-width="0.7"/>
<text stroke="#000" stroke-width="0.2" x="625.8" y="228.5" font-family="Liberation Serif" font-size="10.8"><tspan font-style="italic">RO</tspan> reads</text>
<line x1="511.7" y1="234.9" x2="511.7" y2="261.9" stroke="#000" stroke-width="1"/>
<line x1="620.3" y1="234.9" x2="620.3" y2="261.9" stroke="#000" stroke-width="1"/>
<rect x="511.7" y="238.2" width="17.30000000000001" height="2.6" fill="#5b9bd5"/>
<rect x="511.7" y="244.39999999999998" width="12.500000000000057" height="2.6" fill="#5b9bd5"/>
<rect x="511.7" y="251.7" width="5.599999999999966" height="2.6" fill="#5b9bd5"/>
<rect x="517.3" y="251.7" width="18.600000000000023" height="2.6" fill="#ed7d31"/>
<rect x="511.7" y="257.8" width="12.500000000000057" height="2.6" fill="#5b9bd5"/>
<rect x="533.1" y="238.2" width="5.600000000000023" height="2.6" fill="#ed7d31"/>
<rect x="554.3" y="238.7" width="10.300000000000068" height="2.6" fill="#ed7d31"/>
<rect x="529" y="244.39999999999998" width="9.200000000000045" height="2.6" fill="#ed7d31"/>
<rect x="554.3" y="244.39999999999998" width="4.7000000000000455" height="2.6" fill="#ed7d31"/>
<path d="M538.7,239 C538.7,227 554.3,227 554.3,239" fill="none" stroke="#000" stroke-width="0.7"/>
<path d="M539.7,245 C539.7,233 553.3,233 553.3,245" fill="none" stroke="#000" stroke-width="0.7"/>
<rect x="612.5" y="238.7" width="7.7999999999999545" height="2.6" fill="#5b9bd5"/>
<rect x="607.7" y="244.39999999999998" width="12.599999999999909" height="2.6" fill="#5b9bd5"/>
<rect x="605" y="251.7" width="15.299999999999955" height="2.6" fill="#5b9bd5"/>
<rect x="597.2" y="257.8" width="18.899999999999977" height="2.6" fill="#ed7d31"/>
<rect x="616.1" y="257.8" width="4.199999999999932" height="2.6" fill="#5b9bd5"/>
<text stroke="#000" stroke-width="0.2" x="625.8" y="256.3" font-family="Liberation Serif" font-size="10.8"><tspan font-style="italic">BSJ</tspan> reads</text>
<line x1="499.5" y1="267.4" x2="675" y2="267.4" stroke="#8c8c8c" stroke-width="0.9" stroke-dasharray="1.3,1.5"/>
<path d="M523.62,293.00 A44,44 0 0 1 544.90,271.72" fill="none" stroke="#c8c8c8" stroke-width="0.5"/>
<path d="M539.99,279.24 A40,40 0 0 1 583.50,276.96" fill="none" stroke="#ed7d31" stroke-width="2.1"/>
<path d="M547.07,280.70 A35,35 0 0 1 588.25,286.85" fill="none" stroke="#ed7d31" stroke-width="2.1"/>
<path d="M522.60,291.65 A45.5,45.5 0 0 1 540.07,272.60" fill="none" stroke="#ed7d31" stroke-width="2.1"/>
<path d="M524.26,345.72 A52,52 0 0 1 513.51,297.27" fill="none" stroke="#ed7d31" stroke-width="2.1"/>
<path d="M581.37,361.50 A53,53 0 0 1 523.50,346.37" fill="none" stroke="#5b9bd5" stroke-width="2.1"/>
<path d="M523.27,333.90 A46,46 0 0 1 522.16,291.43" fill="none" stroke="#5b9bd5" stroke-width="2.1"/>
<path d="M529.92,334.25 A40.5,40.5 0 0 1 525.44,297.75" fill="none" stroke="#5b9bd5" stroke-width="2.1"/>
<path d="M532.77,327.94 A34.8,34.8 0 0 1 532.77,295.26" fill="none" stroke="#5b9bd5" stroke-width="2.1"/>
<path d="M568.87,281.17 A30.9,30.9 0 1 1 535.06,323.67 L539.94,321.60 A25.6,25.6 0 1 0 567.95,286.39Z" fill="#fafafa" stroke="#000" stroke-width="0.7"/>
<path d="M593.93,306.23 A30.9,30.9 0 0 1 558.13,342.03 L559.05,336.81 A25.6,25.6 0 0 0 588.71,307.15Z" fill="#70ad47" stroke="#000" stroke-width="0.7"/>
<path d="M584.11,316.55 A21.2,21.2 0 1 1 574.39,293.41 L571.51,298.21 A15.6,15.6 0 1 0 578.67,315.24Z" fill="#ffc000" stroke="#000" stroke-width="0.7"/>
<path d="M574.42,293.43 A21.2,21.2 0 0 1 584.11,316.55 L578.67,315.24 A15.6,15.6 0 0 0 571.53,298.23Z" fill="#dda0dd" stroke="#000" stroke-width="0.7"/>
<line x1="542.3" y1="311.6" x2="547.9" y2="311.6" stroke="#000" stroke-width="1.2"/>
<g transform="translate(555,308) rotate(-15) scale(0.9,0.9)"><path d="M2.2,-2.4 L-10.2,2.3 L1.2,1.8Z" fill="#595959"/><path d="M2.8,-0.6 L-5.9,8.1 L-1.8,-0.6Z" fill="#595959"/><path d="M1.2,-1 L2.2,-4 M1,-0.2 L5.2,-0.1" stroke="#595959" stroke-width="1.3"/><circle cx="2.9" cy="-6.1" r="2.5" fill="none" stroke="#595959" stroke-width="1.1"/><circle cx="7.3" cy="0.1" r="2.5" fill="none" stroke="#595959" stroke-width="1.1"/></g>
<text stroke="#000" stroke-width="0.2" x="624.5" y="351.3" font-family="Liberation Serif" font-size="10.8" text-anchor="middle">Assembled full length</text>
<text stroke="#000" stroke-width="0.2" x="623.8" y="363.8" font-family="Liberation Serif" font-size="10.8" text-anchor="middle">circRNA</text>
<text x="589" y="386.1" font-family="Liberation Serif" font-weight="bold" font-size="12.1" text-anchor="middle">Combined assembly</text>
<text stroke="#000" stroke-width="0.2" x="1.3" y="406.9" font-family="Liberation Serif" font-size="21.5">F</text>
<text x="131" y="411.8" font-family="Liberation Serif" font-weight="bold" font-size="12.27" text-anchor="middle">BSJ &amp; RO reads alignment</text>
<line x1="42.5" y1="417.9" x2="207.6" y2="417.9" stroke="#dedede" stroke-width="0.8"/>
<line x1="42.5" y1="427.4" x2="207.6" y2="427.4" stroke="#dedede" stroke-width="0.8"/>
<line x1="42.5" y1="436.4" x2="207.6" y2="436.4" stroke="#dedede" stroke-width="0.8"/>
<line x1="42.5" y1="445.5" x2="207.6" y2="445.5" stroke="#dedede" stroke-width="0.8"/>
<line x1="42.5" y1="454.6" x2="207.6" y2="454.6" stroke="#dedede" stroke-width="0.8"/>
<line x1="42.5" y1="416.5" x2="42.5" y2="455" stroke="#000" stroke-width="0.9"/>
<text stroke="#222" stroke-width="0.2" x="41" y="420.2" font-family="Liberation Sans" font-size="7.8" text-anchor="end" fill="#222">270</text>
<text stroke="#222" stroke-width="0.2" x="41" y="438.8" font-family="Liberation Sans" font-size="7.8" text-anchor="end" fill="#222">135</text>
<text stroke="#222" stroke-width="0.2" x="40.6" y="456.4" font-family="Liberation Sans" font-size="7.8" text-anchor="end" fill="#222">0</text>
<rect x="50.4" y="427.5" width="2.5" height="27.100000000000023" fill="#3b5fe0"/>
<rect x="107" y="417.2" width="2.4000000000000057" height="37.400000000000034" fill="#3b5fe0"/>
<rect x="111" y="447" width="3.200000000000003" height="7.600000000000023" fill="#3b5fe0"/>
<rect x="147.9" y="430.6" width="2.799999999999983" height="24.0" fill="#3b5fe0"/>
<rect x="177.3" y="420.2" width="2.8999999999999773" height="34.400000000000034" fill="#3b5fe0"/>
<rect x="205.7" y="431" width="1.9000000000000057" height="23.600000000000023" fill="#3b5fe0"/>
<rect x="50.6" y="455.6" width="2.4" height="6.5" fill="#c8c8c8"/>
<rect x="107.2" y="455.6" width="2.4" height="6.5" fill="#d0c8b0"/>
<rect x="148" y="455.6" width="2.4" height="6.5" fill="#e8b0b0"/>
<rect x="177.5" y="455.6" width="2.4" height="6.5" fill="#b8c8d8"/>
<rect x="205.8" y="455.6" width="2.4" height="6.5" fill="#b0c8c0"/>
<rect x="48.1" y="464" width="161" height="3.6" fill="#000"/>
<rect x="48.1" y="461.8" width="2.3" height="7.8" fill="#000"/>
<rect x="207.6" y="461.8" width="2.4" height="7.8" fill="#000"/>
<rect x="50.5" y="462.5" width="1.1" height="5.5" fill="#c03030"/>
<rect x="107.1" y="462.5" width="1.1" height="5.5" fill="#c03030"/>
<rect x="111.5" y="462.5" width="1.1" height="5.5" fill="#c03030"/>
<rect x="148.3" y="462.5" width="1.1" height="5.5" fill="#c03030"/>
<rect x="177.7" y="462.5" width="1.1" height="5.5" fill="#c03030"/>
<rect x="206.1" y="462.5" width="1.1" height="5.5" fill="#c03030"/>
<path d="M51.0,469.0 L26.2,489.5 L64.7,489.5Z" fill="#dcdcdc" fill-opacity="1" stroke="none" stroke-width="0"/>
<path d="M108.4,470.0 L73.5,489.5 L98.0,489.5Z" fill="#dcdcdc" fill-opacity="1" stroke="none" stroke-width="0"/>
<path d="M149.0,470.0 L108.2,489.5 L149.0,489.5Z" fill="#dcdcdc" fill-opacity="1" stroke="none" stroke-width="0"/>
<path d="M178.6,469.0 L159.2,489.5 L200.0,489.5Z" fill="#dcdcdc" fill-opacity="1" stroke="none" stroke-width="0"/>
<path d="M206.0,469.0 L207.0,489.5 L230.6,489.5Z" fill="#dcdcdc" fill-opacity="1" stroke="none" stroke-width="0"/>
<text x="19.6" y="474.3" font-family="Liberation Sans" font-size="8" font-weight="bold" fill="#333" textLength="48.3" lengthAdjust="spacingAndGlyphs">chr1:99150441</text>
<text x="176.3" y="474.6" font-family="Liberation Sans" font-size="8" font-weight="bold" fill="#333" textLength="48.9" lengthAdjust="spacingAndGlyphs">chr1:99167459</text>
<rect x="26.2" y="497.6" width="38.2" height="6.2" fill="#d8d8e8"/>
<rect x="26.2" y="498.8" width="38.2" height="3.4" fill="#4a4a5a"/>
<line x1="26.2" y1="495.6" x2="26.2" y2="504.8" stroke="#000" stroke-width="1.1"/>
<line x1="64.4" y1="495.6" x2="64.4" y2="504.8" stroke="#000" stroke-width="1.1"/>
<rect x="27.0" y="491" width="13.600000000000001" height="4.5" fill="#e0dcf0"/>
<text x="27.4" y="495.2" font-family="Liberation Sans" font-size="5.5" font-weight="bold" fill="#333">183</text>
<rect x="73.5" y="497.6" width="24.5" height="6.2" fill="#e8e8c0"/>
<rect x="73.5" y="498.8" width="24.5" height="3.4" fill="#6a6a3a"/>
<line x1="73.5" y1="495.6" x2="73.5" y2="504.8" stroke="#000" stroke-width="1.1"/>
<line x1="98" y1="495.6" x2="98" y2="504.8" stroke="#000" stroke-width="1.1"/>
<rect x="74.3" y="491" width="13.600000000000001" height="4.5" fill="#f8f4c8"/>
<text x="74.7" y="495.2" font-family="Liberation Sans" font-size="5.5" font-weight="bold" fill="#333">111</text>
<rect x="108.2" y="497.6" width="40.39999999999999" height="6.2" fill="#f0c8c8"/>
<rect x="108.2" y="498.8" width="40.39999999999999" height="3.4" fill="#6e2a2a"/>
<line x1="108.2" y1="495.6" x2="108.2" y2="504.8" stroke="#000" stroke-width="1.1"/>
<line x1="148.6" y1="495.6" x2="148.6" y2="504.8" stroke="#000" stroke-width="1.1"/>
<rect x="109.0" y="491" width="13.600000000000001" height="4.5" fill="#f8d0d0"/>
<text x="109.4" y="495.2" font-family="Liberation Sans" font-size="5.5" font-weight="bold" fill="#333">199</text>
<rect x="159.2" y="497.6" width="40.80000000000001" height="6.2" fill="#c8d8e8"/>
<rect x="159.2" y="498.8" width="40.80000000000001" height="3.4" fill="#2f4050"/>
<line x1="159.2" y1="495.6" x2="159.2" y2="504.8" stroke="#000" stroke-width="1.1"/>
<line x1="200" y1="495.6" x2="200" y2="504.8" stroke="#000" stroke-width="1.1"/>
<rect x="160.0" y="491" width="13.600000000000001" height="4.5" fill="#d0e4f4"/>
<text x="160.39999999999998" y="495.2" font-family="Liberation Sans" font-size="5.5" font-weight="bold" fill="#333">200</text>
<rect x="212.2" y="497.6" width="18.400000000000006" height="6.2" fill="#c8e0d8"/>
<rect x="212.2" y="498.8" width="18.400000000000006" height="3.4" fill="#2f5048"/>
<line x1="212.2" y1="495.6" x2="212.2" y2="504.8" stroke="#000" stroke-width="1.1"/>
<line x1="230.6" y1="495.6" x2="230.6" y2="504.8" stroke="#000" stroke-width="1.1"/>
<rect x="213.0" y="491" width="9.4" height="4.5" fill="#d0ece4"/>
<text x="213.39999999999998" y="495.2" font-family="Liberation Sans" font-size="5.5" font-weight="bold" fill="#333">87</text>
<text stroke="#222" stroke-width="0.2" x="21.8" y="502.3" font-family="Liberation Sans" font-size="6.2" text-anchor="end" fill="#222">135</text>
<path d="M28.0,509.6 L63.0,509.6 L63.0,523.6 L55.0,525.0 L48.0,530.0 L40.0,536.0 L34.0,542.0 L29.0,545.5 L28.0,545.5Z" fill="#a898f4" fill-opacity="1" stroke="none" stroke-width="0"/>
<path d="M75.2,508.7 L97,508.7 L97,521 C92,522.5 80,523 75.2,521.5Z" fill="#e6e619"/>
<path d="M108.2,508.9 L148.0,508.9 L148.0,519.0 L138.0,518.5 L132.0,517.0 L124.0,518.5 L115.0,519.0 L110.0,517.5 L108.2,516.0Z" fill="#ff8c4a" fill-opacity="1" stroke="none" stroke-width="0"/>
<path d="M159.2,508.9 L199.0,508.9 L199.0,515.0 L190.0,514.5 L175.0,513.5 L165.0,514.0 L159.2,514.5Z" fill="#6a80f0" fill-opacity="1" stroke="none" stroke-width="0"/>
<path d="M212.2,508.9 L228.6,508.9 L228.6,546.6 L224.0,541.0 L218.0,537.0 L213.0,535.0 L212.2,534.4Z" fill="#1ab39a" fill-opacity="1" stroke="none" stroke-width="0"/>
<path d="M64.4,499 C64.4,508.5 73.5,508.5 73.5,499" fill="none" stroke="#7a7a7a" stroke-width="1.5"/>
<path d="M98,499 C98,508.5 108.2,508.5 108.2,499" fill="none" stroke="#7a7a7a" stroke-width="1.5"/>
<path d="M148.6,499 C148.6,508.5 159.2,508.5 159.2,499" fill="none" stroke="#7a7a7a" stroke-width="1.5"/>
<path d="M200,499 C200,508.5 212.2,508.5 212.2,499" fill="none" stroke="#7a7a7a" stroke-width="1.5"/>
<path d="M64.4,503 C64.4,515 108.2,515 108.2,503" fill="none" stroke="#7a7a7a" stroke-width="1.2"/>
<path d="M148.6,503 C148.6,520 212.2,520 212.2,503" fill="none" stroke="#7a7a7a" stroke-width="1.2"/>
<path d="M98,503 C98,531 212.2,531 212.2,503" fill="none" stroke="#7a7a7a" stroke-width="1.2"/>
<text stroke="#222" stroke-width="0.2" x="65.5" y="515.2" font-family="Liberation Sans" font-size="6.8" fill="#222">33</text>
<text stroke="#222" stroke-width="0.2" x="83.6" y="518.5" font-family="Liberation Sans" font-size="6.8" fill="#222">11</text>
<text stroke="#222" stroke-width="0.2" x="98.3" y="515.2" font-family="Liberation Sans" font-size="6.8" fill="#222">13</text>
<text stroke="#222" stroke-width="0.2" x="150.8" y="513.4" font-family="Liberation Sans" font-size="6.8" fill="#222">12</text>
<text stroke="#222" stroke-width="0.2" x="177" y="519" font-family="Liberation Sans" font-size="6.8" fill="#222">17</text>
<text stroke="#222" stroke-width="0.2" x="152" y="529.5" font-family="Liberation Sans" font-size="6.8" fill="#222">15</text>
<text stroke="#222" stroke-width="0.2" x="203.3" y="514.2" font-family="Liberation Sans" font-size="6.8" fill="#222">29</text>
<rect x="26.2" y="549.6" width="206" height="24.600000000000023" fill="#e2e2e2"/>
<rect x="27.0" y="549.6" width="0.9" height="24.600000000000023" fill="#f0f0f0"/>
<rect x="32.2" y="549.6" width="0.9" height="24.600000000000023" fill="#f0f0f0"/>
<rect x="37.4" y="549.6" width="0.9" height="24.600000000000023" fill="#f0f0f0"/>
<rect x="42.6" y="549.6" width="0.9" height="24.600000000000023" fill="#f0f0f0"/>
<rect x="47.8" y="549.6" width="0.9" height="24.600000000000023" fill="#f0f0f0"/>
<rect x="53.0" y="549.6" width="0.9" height="24.600000000000023" fill="#f0f0f0"/>
<rect x="58.2" y="549.6" width="0.9" height="24.600000000000023" fill="#f0f0f0"/>
<rect x="63.4" y="549.6" width="0.9" height="24.600000000000023" fill="#f0f0f0"/>
<rect x="68.6" y="549.6" width="0.9" height="24.600000000000023" fill="#f0f0f0"/>
<rect x="73.8" y="549.6" width="0.9" height="24.600000000000023" fill="#f0f0f0"/>
<rect x="79.0" y="549.6" width="0.9" height="24.600000000000023" fill="#f0f0f0"/>
<rect x="84.2" y="549.6" width="0.9" height="24.600000000000023" fill="#f0f0f0"/>
<rect x="89.4" y="549.6" width="0.9" height="24.600000000000023" fill="#f0f0f0"/>
<rect x="94.6" y="549.6" width="0.9" height="24.600000000000023" fill="#f0f0f0"/>
<rect x="99.8" y="549.6" width="0.9" height="24.600000000000023" fill="#f0f0f0"/>
<rect x="105.0" y="549.6" width="0.9" height="24.600000000000023" fill="#f0f0f0"/>
<rect x="110.2" y="549.6" width="0.9" height="24.600000000000023" fill="#f0f0f0"/>
<rect x="115.4" y="549.6" width="0.9" height="24.600000000000023" fill="#f0f0f0"/>
<rect x="120.6" y="549.6" width="0.9" height="24.600000000000023" fill="#f0f0f0"/>
<rect x="125.8" y="549.6" width="0.9" height="24.600000000000023" fill="#f0f0f0"/>
<rect x="131.0" y="549.6" width="0.9" height="24.600000000000023" fill="#f0f0f0"/>
<rect x="136.2" y="549.6" width="0.9" height="24.600000000000023" fill="#f0f0f0"/>
<rect x="141.4" y="549.6" width="0.9" height="24.600000000000023" fill="#f0f0f0"/>
<rect x="146.6" y="549.6" width="0.9" height="24.600000000000023" fill="#f0f0f0"/>
<rect x="151.8" y="549.6" width="0.9" height="24.600000000000023" fill="#f0f0f0"/>
<rect x="157.0" y="549.6" width="0.9" height="24.600000000000023" fill="#f0f0f0"/>
<rect x="162.2" y="549.6" width="0.9" height="24.600000000000023" fill="#f0f0f0"/>
<rect x="167.4" y="549.6" width="0.9" height="24.600000000000023" fill="#f0f0f0"/>
<rect x="172.6" y="549.6" width="0.9" height="24.600000000000023" fill="#f0f0f0"/>
<rect x="177.8" y="549.6" width="0.9" height="24.600000000000023" fill="#f0f0f0"/>
<rect x="183.0" y="549.6" width="0.9" height="24.600000000000023" fill="#f0f0f0"/>
<rect x="188.2" y="549.6" width="0.9" height="24.600000000000023" fill="#f0f0f0"/>
<rect x="193.4" y="549.6" width="0.9" height="24.600000000000023" fill="#f0f0f0"/>
<rect x="198.6" y="549.6" width="0.9" height="24.600000000000023" fill="#f0f0f0"/>
<rect x="203.8" y="549.6" width="0.9" height="24.600000000000023" fill="#f0f0f0"/>
<rect x="209.0" y="549.6" width="0.9" height="24.600000000000023" fill="#f0f0f0"/>
<rect x="214.2" y="549.6" width="0.9" height="24.600000000000023" fill="#f0f0f0"/>
<rect x="219.4" y="549.6" width="0.9" height="24.600000000000023" fill="#f0f0f0"/>
<rect x="224.6" y="549.6" width="0.9" height="24.600000000000023" fill="#f0f0f0"/>
<rect x="229.8" y="549.6" width="0.9" height="24.600000000000023" fill="#f0f0f0"/>
<rect x="26.6" y="550.1" width="27.0" height="1.35" fill="#c85a5a"/>
<rect x="53.6" y="550.1" width="25.5" height="1.35" fill="#dc9a9a"/>
<rect x="26.6" y="551.8" width="70.3" height="1.35" fill="#c85a5a"/>
<rect x="26.6" y="553.5" width="70.3" height="1.35" fill="#5a5ac8"/>
<rect x="26.6" y="555.2" width="70.2" height="1.35" fill="#c85a5a"/>
<rect x="26.6" y="556.9" width="39.3" height="1.35" fill="#5a5ac8"/>
<rect x="26.6" y="558.6" width="57.1" height="1.35" fill="#c85a5a"/>
<rect x="26.6" y="560.3" width="64.5" height="1.35" fill="#c85a5a"/>
<rect x="26.6" y="562.0" width="60.0" height="1.35" fill="#c85a5a"/>
<rect x="35.5" y="563.7" width="36.0" height="1.35" fill="#c85a5a"/>
<rect x="71.5" y="563.7" width="22.9" height="1.35" fill="#dc9a9a"/>
<rect x="26.6" y="565.4" width="65.4" height="1.35" fill="#dc9a9a"/>
<rect x="26.6" y="567.1" width="63.0" height="1.35" fill="#5a5ac8"/>
<rect x="26.6" y="568.8" width="16.4" height="1.35" fill="#c85a5a"/>
<rect x="43.0" y="568.8" width="14.9" height="1.35" fill="#c85a5a"/>
<rect x="26.6" y="570.5" width="56.2" height="1.35" fill="#c85a5a"/>
<rect x="26.6" y="572.2" width="30.1" height="1.35" fill="#dc9a9a"/>
<rect x="56.7" y="572.2" width="21.7" height="1.35" fill="#5a5ac8"/>
<rect x="139.5" y="555.2" width="3.5" height="1.35" fill="#c85a5a"/>
<rect x="139.2" y="567.1" width="4.3" height="1.35" fill="#5a5ac8"/>
<rect x="217.1" y="550.1" width="14.6" height="1.35" fill="#5a5ac8"/>
<rect x="212.4" y="551.8" width="19.3" height="1.35" fill="#c85a5a"/>
<rect x="213.8" y="553.5" width="17.9" height="1.35" fill="#c85a5a"/>
<rect x="213.4" y="555.2" width="18.3" height="1.35" fill="#c85a5a"/>
<rect x="214.6" y="556.9" width="17.1" height="1.35" fill="#dc9a9a"/>
<rect x="215.1" y="558.6" width="16.6" height="1.35" fill="#dc9a9a"/>
<rect x="212.8" y="560.3" width="10.4" height="1.35" fill="#c85a5a"/>
<rect x="223.3" y="560.3" width="8.4" height="1.35" fill="#5a5ac8"/>
<rect x="212.5" y="562.0" width="8.4" height="1.35" fill="#c85a5a"/>
<rect x="220.8" y="562.0" width="10.9" height="1.35" fill="#c85a5a"/>
<rect x="212.4" y="563.7" width="8.6" height="1.35" fill="#c85a5a"/>
<rect x="221.0" y="563.7" width="10.7" height="1.35" fill="#c85a5a"/>
<rect x="214.0" y="565.4" width="7.1" height="1.35" fill="#c85a5a"/>
<rect x="221.1" y="565.4" width="10.6" height="1.35" fill="#dc9a9a"/>
<rect x="212.4" y="567.1" width="19.3" height="1.35" fill="#5a5ac8"/>
<rect x="212.6" y="568.8" width="11.5" height="1.35" fill="#c85a5a"/>
<rect x="224.1" y="568.8" width="7.6" height="1.35" fill="#5a5ac8"/>
<rect x="212.4" y="570.5" width="13.1" height="1.35" fill="#dc9a9a"/>
<rect x="225.5" y="570.5" width="6.2" height="1.35" fill="#c85a5a"/>
<rect x="213.5" y="572.2" width="9.3" height="1.35" fill="#c85a5a"/>
<rect x="222.8" y="572.2" width="8.9" height="1.35" fill="#c85a5a"/>
<rect x="25.2" y="549.6" width="1.6" height="24.600000000000023" fill="#111"/>
<rect x="229.8" y="549.6" width="1.5" height="24.600000000000023" fill="#111" opacity="0.85"/>
<path d="M62,549.6 L62,573.5999999999999 A6.700000000000003,6.700000000000003 0 0 0 75.4,573.5999999999999 L75.4,549.6Z" fill="#8a8a8a"/>
<path d="M63.5,549.6 L63.5,573.5999999999999 M73.9,549.6 L73.9,573.5999999999999" stroke="#a0a0a0" stroke-width="1"/>
<ellipse cx="68.7" cy="551.8000000000001" rx="5.500000000000003" ry="3.2" fill="#e0e0e0"/>
<path d="M168.2,547.8000000000001 L233.3,547.8000000000001 L233.3,575.8000000000001 L168.2,575.8000000000001" fill="none" stroke="#000" stroke-width="1.2"/>
<rect x="26.2" y="582.0" width="206" height="6.7999999999999545" fill="#f5f2cf"/>
<rect x="27.0" y="582.0" width="0.9" height="6.7999999999999545" fill="#fbf8e4"/>
<rect x="32.2" y="582.0" width="0.9" height="6.7999999999999545" fill="#fbf8e4"/>
<rect x="37.4" y="582.0" width="0.9" height="6.7999999999999545" fill="#fbf8e4"/>
<rect x="42.6" y="582.0" width="0.9" height="6.7999999999999545" fill="#fbf8e4"/>
<rect x="47.8" y="582.0" width="0.9" height="6.7999999999999545" fill="#fbf8e4"/>
<rect x="53.0" y="582.0" width="0.9" height="6.7999999999999545" fill="#fbf8e4"/>
<rect x="58.2" y="582.0" width="0.9" height="6.7999999999999545" fill="#fbf8e4"/>
<rect x="63.4" y="582.0" width="0.9" height="6.7999999999999545" fill="#fbf8e4"/>
<rect x="68.6" y="582.0" width="0.9" height="6.7999999999999545" fill="#fbf8e4"/>
<rect x="73.8" y="582.0" width="0.9" height="6.7999999999999545" fill="#fbf8e4"/>
<rect x="79.0" y="582.0" width="0.9" height="6.7999999999999545" fill="#fbf8e4"/>
<rect x="84.2" y="582.0" width="0.9" height="6.7999999999999545" fill="#fbf8e4"/>
<rect x="89.4" y="582.0" width="0.9" height="6.7999999999999545" fill="#fbf8e4"/>
<rect x="94.6" y="582.0" width="0.9" height="6.7999999999999545" fill="#fbf8e4"/>
<rect x="99.8" y="582.0" width="0.9" height="6.7999999999999545" fill="#fbf8e4"/>
<rect x="105.0" y="582.0" width="0.9" height="6.7999999999999545" fill="#fbf8e4"/>
<rect x="110.2" y="582.0" width="0.9" height="6.7999999999999545" fill="#fbf8e4"/>
<rect x="115.4" y="582.0" width="0.9" height="6.7999999999999545" fill="#fbf8e4"/>
<rect x="120.6" y="582.0" width="0.9" height="6.7999999999999545" fill="#fbf8e4"/>
<rect x="125.8" y="582.0" width="0.9" height="6.7999999999999545" fill="#fbf8e4"/>
<rect x="131.0" y="582.0" width="0.9" height="6.7999999999999545" fill="#fbf8e4"/>
<rect x="136.2" y="582.0" width="0.9" height="6.7999999999999545" fill="#fbf8e4"/>
<rect x="141.4" y="582.0" width="0.9" height="6.7999999999999545" fill="#fbf8e4"/>
<rect x="146.6" y="582.0" width="0.9" height="6.7999999999999545" fill="#fbf8e4"/>
<rect x="151.8" y="582.0" width="0.9" height="6.7999999999999545" fill="#fbf8e4"/>
<rect x="157.0" y="582.0" width="0.9" height="6.7999999999999545" fill="#fbf8e4"/>
<rect x="162.2" y="582.0" width="0.9" height="6.7999999999999545" fill="#fbf8e4"/>
<rect x="167.4" y="582.0" width="0.9" height="6.7999999999999545" fill="#fbf8e4"/>
<rect x="172.6" y="582.0" width="0.9" height="6.7999999999999545" fill="#fbf8e4"/>
<rect x="177.8" y="582.0" width="0.9" height="6.7999999999999545" fill="#fbf8e4"/>
<rect x="183.0" y="582.0" width="0.9" height="6.7999999999999545" fill="#fbf8e4"/>
<rect x="188.2" y="582.0" width="0.9" height="6.7999999999999545" fill="#fbf8e4"/>
<rect x="193.4" y="582.0" width="0.9" height="6.7999999999999545" fill="#fbf8e4"/>
<rect x="198.6" y="582.0" width="0.9" height="6.7999999999999545" fill="#fbf8e4"/>
<rect x="203.8" y="582.0" width="0.9" height="6.7999999999999545" fill="#fbf8e4"/>
<rect x="209.0" y="582.0" width="0.9" height="6.7999999999999545" fill="#fbf8e4"/>
<rect x="214.2" y="582.0" width="0.9" height="6.7999999999999545" fill="#fbf8e4"/>
<rect x="219.4" y="582.0" width="0.9" height="6.7999999999999545" fill="#fbf8e4"/>
<rect x="224.6" y="582.0" width="0.9" height="6.7999999999999545" fill="#fbf8e4"/>
<rect x="229.8" y="582.0" width="0.9" height="6.7999999999999545" fill="#fbf8e4"/>
<rect x="31.0" y="582.5" width="29.7" height="1.35" fill="#e0a080"/>
<rect x="26.6" y="584.2" width="22.0" height="1.35" fill="#6a6ac8"/>
<rect x="35.7" y="585.9" width="24.9" height="1.35" fill="#e0a080"/>
<rect x="115.1" y="582.5" width="6.1" height="1.35" fill="#e0a080"/>
<rect x="121.2" y="582.5" width="5.2" height="1.35" fill="#d07050"/>
<rect x="109.8" y="585.9" width="2.8" height="1.35" fill="#d07050"/>
<rect x="112.6" y="585.9" width="5.4" height="1.35" fill="#6a6ac8"/>
<rect x="211.0" y="582.5" width="20.7" height="1.35" fill="#e0a080"/>
<rect x="211.0" y="584.2" width="20.7" height="1.35" fill="#d07050"/>
<rect x="214.1" y="585.9" width="17.6" height="1.35" fill="#6a6ac8"/>
<rect x="25.2" y="582.0" width="1.6" height="6.7999999999999545" fill="#111"/>
<rect x="229.8" y="582.0" width="1.5" height="6.7999999999999545" fill="#111" opacity="0.85"/>
<path d="M62,582.0 L62,588.8 C62,595.7 109.8,595.7 109.8,588.8 L109.8,582.0Z" fill="url(#gsemi)"/>
<path d="M62,582.0 L109.8,582.0 L109.8,588.8 C109.8,591.8 62,591.8 62,588.8Z" fill="url(#ysemi)" stroke="#a8a680" stroke-width="0.5"/>
<rect x="65.4" y="582.0" width="0.7" height="7.7999999999999545" fill="#ffffff" opacity="0.35"/>
<rect x="68.8" y="582.0" width="0.7" height="7.7999999999999545" fill="#ffffff" opacity="0.35"/>
<rect x="72.2" y="582.0" width="0.7" height="7.7999999999999545" fill="#ffffff" opacity="0.35"/>
<rect x="75.7" y="582.0" width="0.7" height="7.7999999999999545" fill="#ffffff" opacity="0.35"/>
<rect x="79.1" y="582.0" width="0.7" height="7.7999999999999545" fill="#ffffff" opacity="0.35"/>
<rect x="82.5" y="582.0" width="0.7" height="7.7999999999999545" fill="#ffffff" opacity="0.35"/>
<rect x="85.9" y="582.0" width="0.7" height="7.7999999999999545" fill="#ffffff" opacity="0.35"/>
<rect x="89.3" y="582.0" width="0.7" height="7.7999999999999545" fill="#ffffff" opacity="0.35"/>
<rect x="92.7" y="582.0" width="0.7" height="7.7999999999999545" fill="#ffffff" opacity="0.35"/>
<rect x="96.1" y="582.0" width="0.7" height="7.7999999999999545" fill="#ffffff" opacity="0.35"/>
<rect x="99.6" y="582.0" width="0.7" height="7.7999999999999545" fill="#ffffff" opacity="0.35"/>
<rect x="103.0" y="582.0" width="0.7" height="7.7999999999999545" fill="#ffffff" opacity="0.35"/>
<rect x="106.4" y="582.0" width="0.7" height="7.7999999999999545" fill="#ffffff" opacity="0.35"/>
<path d="M168.2,580.2 L233.3,580.2 L233.3,590.4 L168.2,590.4" fill="none" stroke="#000" stroke-width="1.2"/>
<rect x="26.2" y="596.6" width="206" height="10.799999999999955" fill="#e2e2e2"/>
<rect x="27.0" y="596.6" width="0.9" height="10.799999999999955" fill="#f0f0f0"/>
<rect x="32.2" y="596.6" width="0.9" height="10.799999999999955" fill="#f0f0f0"/>
<rect x="37.4" y="596.6" width="0.9" height="10.799999999999955" fill="#f0f0f0"/>
<rect x="42.6" y="596.6" width="0.9" height="10.799999999999955" fill="#f0f0f0"/>
<rect x="47.8" y="596.6" width="0.9" height="10.799999999999955" fill="#f0f0f0"/>
<rect x="53.0" y="596.6" width="0.9" height="10.799999999999955" fill="#f0f0f0"/>
<rect x="58.2" y="596.6" width="0.9" height="10.799999999999955" fill="#f0f0f0"/>
<rect x="63.4" y="596.6" width="0.9" height="10.799999999999955" fill="#f0f0f0"/>
<rect x="68.6" y="596.6" width="0.9" height="10.799999999999955" fill="#f0f0f0"/>
<rect x="73.8" y="596.6" width="0.9" height="10.799999999999955" fill="#f0f0f0"/>
<rect x="79.0" y="596.6" width="0.9" height="10.799999999999955" fill="#f0f0f0"/>
<rect x="84.2" y="596.6" width="0.9" height="10.799999999999955" fill="#f0f0f0"/>
<rect x="89.4" y="596.6" width="0.9" height="10.799999999999955" fill="#f0f0f0"/>
<rect x="94.6" y="596.6" width="0.9" height="10.799999999999955" fill="#f0f0f0"/>
<rect x="99.8" y="596.6" width="0.9" height="10.799999999999955" fill="#f0f0f0"/>
<rect x="105.0" y="596.6" width="0.9" height="10.799999999999955" fill="#f0f0f0"/>
<rect x="110.2" y="596.6" width="0.9" height="10.799999999999955" fill="#f0f0f0"/>
<rect x="115.4" y="596.6" width="0.9" height="10.799999999999955" fill="#f0f0f0"/>
<rect x="120.6" y="596.6" width="0.9" height="10.799999999999955" fill="#f0f0f0"/>
<rect x="125.8" y="596.6" width="0.9" height="10.799999999999955" fill="#f0f0f0"/>
<rect x="131.0" y="596.6" width="0.9" height="10.799999999999955" fill="#f0f0f0"/>
<rect x="136.2" y="596.6" width="0.9" height="10.799999999999955" fill="#f0f0f0"/>
<rect x="141.4" y="596.6" width="0.9" height="10.799999999999955" fill="#f0f0f0"/>
<rect x="146.6" y="596.6" width="0.9" height="10.799999999999955" fill="#f0f0f0"/>
<rect x="151.8" y="596.6" width="0.9" height="10.799999999999955" fill="#f0f0f0"/>
<rect x="157.0" y="596.6" width="0.9" height="10.799999999999955" fill="#f0f0f0"/>
<rect x="162.2" y="596.6" width="0.9" height="10.799999999999955" fill="#f0f0f0"/>
<rect x="167.4" y="596.6" width="0.9" height="10.799999999999955" fill="#f0f0f0"/>
<rect x="172.6" y="596.6" width="0.9" height="10.799999999999955" fill="#f0f0f0"/>
<rect x="177.8" y="596.6" width="0.9" height="10.799999999999955" fill="#f0f0f0"/>
<rect x="183.0" y="596.6" width="0.9" height="10.799999999999955" fill="#f0f0f0"/>
<rect x="188.2" y="596.6" width="0.9" height="10.799999999999955" fill="#f0f0f0"/>
<rect x="193.4" y="596.6" width="0.9" height="10.799999999999955" fill="#f0f0f0"/>
<rect x="198.6" y="596.6" width="0.9" height="10.799999999999955" fill="#f0f0f0"/>
<rect x="203.8" y="596.6" width="0.9" height="10.799999999999955" fill="#f0f0f0"/>
<rect x="209.0" y="596.6" width="0.9" height="10.799999999999955" fill="#f0f0f0"/>
<rect x="214.2" y="596.6" width="0.9" height="10.799999999999955" fill="#f0f0f0"/>
<rect x="219.4" y="596.6" width="0.9" height="10.799999999999955" fill="#f0f0f0"/>
<rect x="224.6" y="596.6" width="0.9" height="10.799999999999955" fill="#f0f0f0"/>
<rect x="229.8" y="596.6" width="0.9" height="10.799999999999955" fill="#f0f0f0"/>
<rect x="26.6" y="597.1" width="25.3" height="1.35" fill="#5a5ac8"/>
<rect x="26.6" y="598.8" width="11.7" height="1.35" fill="#c85a5a"/>
<rect x="26.6" y="600.5" width="20.1" height="1.35" fill="#5a5ac8"/>
<rect x="35.3" y="602.2" width="10.1" height="1.35" fill="#5a5ac8"/>
<rect x="26.6" y="603.9" width="15.7" height="1.35" fill="#c85a5a"/>
<rect x="85.5" y="597.1" width="11.5" height="1.35" fill="#5a5ac8"/>
<rect x="74.6" y="598.8" width="22.4" height="1.35" fill="#c85a5a"/>
<rect x="80.5" y="600.5" width="16.5" height="1.35" fill="#dc9a9a"/>
<rect x="74.5" y="602.2" width="22.5" height="1.35" fill="#c85a5a"/>
<rect x="78.4" y="603.9" width="18.6" height="1.35" fill="#dc9a9a"/>
<rect x="113.7" y="597.1" width="14.5" height="1.35" fill="#c85a5a"/>
<rect x="114.5" y="598.8" width="3.4" height="1.35" fill="#dc9a9a"/>
<rect x="117.9" y="598.8" width="6.1" height="1.35" fill="#c85a5a"/>
<rect x="109.8" y="600.5" width="18.6" height="1.35" fill="#c85a5a"/>
<rect x="109.8" y="602.2" width="7.4" height="1.35" fill="#5a5ac8"/>
<rect x="117.2" y="602.2" width="14.3" height="1.35" fill="#dc9a9a"/>
<rect x="110.3" y="603.9" width="20.3" height="1.35" fill="#dc9a9a"/>
<rect x="214.7" y="597.1" width="17.0" height="1.35" fill="#c85a5a"/>
<rect x="217.2" y="598.8" width="6.9" height="1.35" fill="#5a5ac8"/>
<rect x="224.1" y="598.8" width="7.6" height="1.35" fill="#c85a5a"/>
<rect x="212.6" y="600.5" width="19.1" height="1.35" fill="#5a5ac8"/>
<rect x="214.4" y="602.2" width="17.3" height="1.35" fill="#5a5ac8"/>
<rect x="214.2" y="603.9" width="17.5" height="1.35" fill="#c85a5a"/>
<rect x="25.2" y="596.6" width="1.6" height="10.799999999999955" fill="#111"/>
<rect x="229.8" y="596.6" width="1.5" height="10.799999999999955" fill="#111" opacity="0.85"/>
<path d="M97,596.6 L97,605.9 A6.399999999999999,6.399999999999999 0 0 0 109.8,605.9 L109.8,596.6Z" fill="#8a8a8a"/>
<path d="M98.5,596.6 L98.5,605.9 M108.3,596.6 L108.3,605.9" stroke="#a0a0a0" stroke-width="1"/>
<ellipse cx="103.4" cy="598.8000000000001" rx="5.199999999999998" ry="3.2" fill="#e0e0e0"/>
<path d="M168.2,594.8000000000001 L233.3,594.8000000000001 L233.3,609.0 L168.2,609.0" fill="none" stroke="#000" stroke-width="1.2"/>
<rect x="26.2" y="614.0" width="206" height="9.799999999999955" fill="#f5f2cf"/>
<rect x="27.0" y="614.0" width="0.9" height="9.799999999999955" fill="#fbf8e4"/>
<rect x="32.2" y="614.0" width="0.9" height="9.799999999999955" fill="#fbf8e4"/>
<rect x="37.4" y="614.0" width="0.9" height="9.799999999999955" fill="#fbf8e4"/>
<rect x="42.6" y="614.0" width="0.9" height="9.799999999999955" fill="#fbf8e4"/>
<rect x="47.8" y="614.0" width="0.9" height="9.799999999999955" fill="#fbf8e4"/>
<rect x="53.0" y="614.0" width="0.9" height="9.799999999999955" fill="#fbf8e4"/>
<rect x="58.2" y="614.0" width="0.9" height="9.799999999999955" fill="#fbf8e4"/>
<rect x="63.4" y="614.0" width="0.9" height="9.799999999999955" fill="#fbf8e4"/>
<rect x="68.6" y="614.0" width="0.9" height="9.799999999999955" fill="#fbf8e4"/>
<rect x="73.8" y="614.0" width="0.9" height="9.799999999999955" fill="#fbf8e4"/>
<rect x="79.0" y="614.0" width="0.9" height="9.799999999999955" fill="#fbf8e4"/>
<rect x="84.2" y="614.0" width="0.9" height="9.799999999999955" fill="#fbf8e4"/>
<rect x="89.4" y="614.0" width="0.9" height="9.799999999999955" fill="#fbf8e4"/>
<rect x="94.6" y="614.0" width="0.9" height="9.799999999999955" fill="#fbf8e4"/>
<rect x="99.8" y="614.0" width="0.9" height="9.799999999999955" fill="#fbf8e4"/>
<rect x="105.0" y="614.0" width="0.9" height="9.799999999999955" fill="#fbf8e4"/>
<rect x="110.2" y="614.0" width="0.9" height="9.799999999999955" fill="#fbf8e4"/>
<rect x="115.4" y="614.0" width="0.9" height="9.799999999999955" fill="#fbf8e4"/>
<rect x="120.6" y="614.0" width="0.9" height="9.799999999999955" fill="#fbf8e4"/>
<rect x="125.8" y="614.0" width="0.9" height="9.799999999999955" fill="#fbf8e4"/>
<rect x="131.0" y="614.0" width="0.9" height="9.799999999999955" fill="#fbf8e4"/>
<rect x="136.2" y="614.0" width="0.9" height="9.799999999999955" fill="#fbf8e4"/>
<rect x="141.4" y="614.0" width="0.9" height="9.799999999999955" fill="#fbf8e4"/>
<rect x="146.6" y="614.0" width="0.9" height="9.799999999999955" fill="#fbf8e4"/>
<rect x="151.8" y="614.0" width="0.9" height="9.799999999999955" fill="#fbf8e4"/>
<rect x="157.0" y="614.0" width="0.9" height="9.799999999999955" fill="#fbf8e4"/>
<rect x="162.2" y="614.0" width="0.9" height="9.799999999999955" fill="#fbf8e4"/>
<rect x="167.4" y="614.0" width="0.9" height="9.799999999999955" fill="#fbf8e4"/>
<rect x="172.6" y="614.0" width="0.9" height="9.799999999999955" fill="#fbf8e4"/>
<rect x="177.8" y="614.0" width="0.9" height="9.799999999999955" fill="#fbf8e4"/>
<rect x="183.0" y="614.0" width="0.9" height="9.799999999999955" fill="#fbf8e4"/>
<rect x="188.2" y="614.0" width="0.9" height="9.799999999999955" fill="#fbf8e4"/>
<rect x="193.4" y="614.0" width="0.9" height="9.799999999999955" fill="#fbf8e4"/>
<rect x="198.6" y="614.0" width="0.9" height="9.799999999999955" fill="#fbf8e4"/>
<rect x="203.8" y="614.0" width="0.9" height="9.799999999999955" fill="#fbf8e4"/>
<rect x="209.0" y="614.0" width="0.9" height="9.799999999999955" fill="#fbf8e4"/>
<rect x="214.2" y="614.0" width="0.9" height="9.799999999999955" fill="#fbf8e4"/>
<rect x="219.4" y="614.0" width="0.9" height="9.799999999999955" fill="#fbf8e4"/>
<rect x="224.6" y="614.0" width="0.9" height="9.799999999999955" fill="#fbf8e4"/>
<rect x="229.8" y="614.0" width="0.9" height="9.799999999999955" fill="#fbf8e4"/>
<rect x="29.3" y="614.5" width="13.4" height="1.35" fill="#d07050"/>
<rect x="26.6" y="616.2" width="34.3" height="1.35" fill="#d07050"/>
<rect x="26.6" y="617.9" width="33.2" height="1.35" fill="#e08a60"/>
<rect x="26.6" y="619.6" width="24.9" height="1.35" fill="#e0a080"/>
<rect x="26.6" y="621.3" width="14.8" height="1.35" fill="#e08a60"/>
<rect x="74.8" y="614.5" width="22.2" height="1.35" fill="#e08a60"/>
<rect x="74.5" y="616.2" width="22.5" height="1.35" fill="#c85a5a"/>
<rect x="74.7" y="617.9" width="14.9" height="1.35" fill="#c85a5a"/>
<rect x="89.6" y="617.9" width="7.4" height="1.35" fill="#d07050"/>
<rect x="74.5" y="619.6" width="12.9" height="1.35" fill="#d07050"/>
<rect x="87.4" y="619.6" width="9.6" height="1.35" fill="#e08a60"/>
<rect x="74.5" y="621.3" width="9.1" height="1.35" fill="#c85a5a"/>
<rect x="83.6" y="621.3" width="13.4" height="1.35" fill="#e08a60"/>
<rect x="216.7" y="614.5" width="15.0" height="1.35" fill="#5a5ac8"/>
<rect x="212.9" y="616.2" width="18.8" height="1.35" fill="#e08a60"/>
<rect x="213.4" y="617.9" width="6.3" height="1.35" fill="#c85a5a"/>
<rect x="219.7" y="617.9" width="12.0" height="1.35" fill="#5a5ac8"/>
<rect x="212.5" y="619.6" width="19.2" height="1.35" fill="#5a5ac8"/>
<rect x="212.5" y="621.3" width="19.2" height="1.35" fill="#e08a60"/>
<rect x="25.2" y="614.0" width="1.6" height="9.799999999999955" fill="#111"/>
<rect x="229.8" y="614.0" width="1.5" height="9.799999999999955" fill="#111" opacity="0.85"/>
<path d="M97,614.0 L97,623.8 C97,631 212.4,631 212.4,623.8 L212.4,614.0Z" fill="url(#gsemi)"/>
<path d="M97,614.0 L212.4,614.0 L212.4,623.8 C212.4,626.8 97,626.8 97,623.8Z" fill="url(#ysemi)" stroke="#a8a680" stroke-width="0.5"/>
<rect x="100.2" y="614.0" width="0.7" height="10.799999999999955" fill="#ffffff" opacity="0.35"/>
<rect x="103.4" y="614.0" width="0.7" height="10.799999999999955" fill="#ffffff" opacity="0.35"/>
<rect x="106.6" y="614.0" width="0.7" height="10.799999999999955" fill="#ffffff" opacity="0.35"/>
<rect x="109.8" y="614.0" width="0.7" height="10.799999999999955" fill="#ffffff" opacity="0.35"/>
<rect x="113.0" y="614.0" width="0.7" height="10.799999999999955" fill="#ffffff" opacity="0.35"/>
<rect x="116.2" y="614.0" width="0.7" height="10.799999999999955" fill="#ffffff" opacity="0.35"/>
<rect x="119.4" y="614.0" width="0.7" height="10.799999999999955" fill="#ffffff" opacity="0.35"/>
<rect x="122.6" y="614.0" width="0.7" height="10.799999999999955" fill="#ffffff" opacity="0.35"/>
<rect x="125.9" y="614.0" width="0.7" height="10.799999999999955" fill="#ffffff" opacity="0.35"/>
<rect x="129.1" y="614.0" width="0.7" height="10.799999999999955" fill="#ffffff" opacity="0.35"/>
<rect x="132.3" y="614.0" width="0.7" height="10.799999999999955" fill="#ffffff" opacity="0.35"/>
<rect x="135.5" y="614.0" width="0.7" height="10.799999999999955" fill="#ffffff" opacity="0.35"/>
<rect x="138.7" y="614.0" width="0.7" height="10.799999999999955" fill="#ffffff" opacity="0.35"/>
<rect x="141.9" y="614.0" width="0.7" height="10.799999999999955" fill="#ffffff" opacity="0.35"/>
<rect x="145.1" y="614.0" width="0.7" height="10.799999999999955" fill="#ffffff" opacity="0.35"/>
<rect x="148.3" y="614.0" width="0.7" height="10.799999999999955" fill="#ffffff" opacity="0.35"/>
<rect x="151.5" y="614.0" width="0.7" height="10.799999999999955" fill="#ffffff" opacity="0.35"/>
<rect x="154.7" y="614.0" width="0.7" height="10.799999999999955" fill="#ffffff" opacity="0.35"/>
<rect x="157.9" y="614.0" width="0.7" height="10.799999999999955" fill="#ffffff" opacity="0.35"/>
<rect x="161.1" y="614.0" width="0.7" height="10.799999999999955" fill="#ffffff" opacity="0.35"/>
<rect x="164.3" y="614.0" width="0.7" height="10.799999999999955" fill="#ffffff" opacity="0.35"/>
<rect x="167.5" y="614.0" width="0.7" height="10.799999999999955" fill="#ffffff" opacity="0.35"/>
<rect x="170.7" y="614.0" width="0.7" height="10.799999999999955" fill="#ffffff" opacity="0.35"/>
<rect x="173.9" y="614.0" width="0.7" height="10.799999999999955" fill="#ffffff" opacity="0.35"/>
<rect x="177.1" y="614.0" width="0.7" height="10.799999999999955" fill="#ffffff" opacity="0.35"/>
<rect x="180.3" y="614.0" width="0.7" height="10.799999999999955" fill="#ffffff" opacity="0.35"/>
<rect x="183.6" y="614.0" width="0.7" height="10.799999999999955" fill="#ffffff" opacity="0.35"/>
<rect x="186.8" y="614.0" width="0.7" height="10.799999999999955" fill="#ffffff" opacity="0.35"/>
<rect x="190.0" y="614.0" width="0.7" height="10.799999999999955" fill="#ffffff" opacity="0.35"/>
<rect x="193.2" y="614.0" width="0.7" height="10.799999999999955" fill="#ffffff" opacity="0.35"/>
<rect x="196.4" y="614.0" width="0.7" height="10.799999999999955" fill="#ffffff" opacity="0.35"/>
<rect x="199.6" y="614.0" width="0.7" height="10.799999999999955" fill="#ffffff" opacity="0.35"/>
<rect x="202.8" y="614.0" width="0.7" height="10.799999999999955" fill="#ffffff" opacity="0.35"/>
<rect x="206.0" y="614.0" width="0.7" height="10.799999999999955" fill="#ffffff" opacity="0.35"/>
<rect x="209.2" y="614.0" width="0.7" height="10.799999999999955" fill="#ffffff" opacity="0.35"/>
<path d="M168.2,612.2 L233.3,612.2 L233.3,625.4 L168.2,625.4" fill="none" stroke="#000" stroke-width="1.2"/>
<rect x="26.2" y="632.4" width="206" height="7.399999999999977" fill="#e2e2e2"/>
<rect x="27.0" y="632.4" width="0.9" height="7.399999999999977" fill="#f0f0f0"/>
<rect x="32.2" y="632.4" width="0.9" height="7.399999999999977" fill="#f0f0f0"/>
<rect x="37.4" y="632.4" width="0.9" height="7.399999999999977" fill="#f0f0f0"/>
<rect x="42.6" y="632.4" width="0.9" height="7.399999999999977" fill="#f0f0f0"/>
<rect x="47.8" y="632.4" width="0.9" height="7.399999999999977" fill="#f0f0f0"/>
<rect x="53.0" y="632.4" width="0.9" height="7.399999999999977" fill="#f0f0f0"/>
<rect x="58.2" y="632.4" width="0.9" height="7.399999999999977" fill="#f0f0f0"/>
<rect x="63.4" y="632.4" width="0.9" height="7.399999999999977" fill="#f0f0f0"/>
<rect x="68.6" y="632.4" width="0.9" height="7.399999999999977" fill="#f0f0f0"/>
<rect x="73.8" y="632.4" width="0.9" height="7.399999999999977" fill="#f0f0f0"/>
<rect x="79.0" y="632.4" width="0.9" height="7.399999999999977" fill="#f0f0f0"/>
<rect x="84.2" y="632.4" width="0.9" height="7.399999999999977" fill="#f0f0f0"/>
<rect x="89.4" y="632.4" width="0.9" height="7.399999999999977" fill="#f0f0f0"/>
<rect x="94.6" y="632.4" width="0.9" height="7.399999999999977" fill="#f0f0f0"/>
<rect x="99.8" y="632.4" width="0.9" height="7.399999999999977" fill="#f0f0f0"/>
<rect x="105.0" y="632.4" width="0.9" height="7.399999999999977" fill="#f0f0f0"/>
<rect x="110.2" y="632.4" width="0.9" height="7.399999999999977" fill="#f0f0f0"/>
<rect x="115.4" y="632.4" width="0.9" height="7.399999999999977" fill="#f0f0f0"/>
<rect x="120.6" y="632.4" width="0.9" height="7.399999999999977" fill="#f0f0f0"/>
<rect x="125.8" y="632.4" width="0.9" height="7.399999999999977" fill="#f0f0f0"/>
<rect x="131.0" y="632.4" width="0.9" height="7.399999999999977" fill="#f0f0f0"/>
<rect x="136.2" y="632.4" width="0.9" height="7.399999999999977" fill="#f0f0f0"/>
<rect x="141.4" y="632.4" width="0.9" height="7.399999999999977" fill="#f0f0f0"/>
<rect x="146.6" y="632.4" width="0.9" height="7.399999999999977" fill="#f0f0f0"/>
<rect x="151.8" y="632.4" width="0.9" height="7.399999999999977" fill="#f0f0f0"/>
<rect x="157.0" y="632.4" width="0.9" height="7.399999999999977" fill="#f0f0f0"/>
<rect x="162.2" y="632.4" width="0.9" height="7.399999999999977" fill="#f0f0f0"/>
<rect x="167.4" y="632.4" width="0.9" height="7.399999999999977" fill="#f0f0f0"/>
<rect x="172.6" y="632.4" width="0.9" height="7.399999999999977" fill="#f0f0f0"/>
<rect x="177.8" y="632.4" width="0.9" height="7.399999999999977" fill="#f0f0f0"/>
<rect x="183.0" y="632.4" width="0.9" height="7.399999999999977" fill="#f0f0f0"/>
<rect x="188.2" y="632.4" width="0.9" height="7.399999999999977" fill="#f0f0f0"/>
<rect x="193.4" y="632.4" width="0.9" height="7.399999999999977" fill="#f0f0f0"/>
<rect x="198.6" y="632.4" width="0.9" height="7.399999999999977" fill="#f0f0f0"/>
<rect x="203.8" y="632.4" width="0.9" height="7.399999999999977" fill="#f0f0f0"/>
<rect x="209.0" y="632.4" width="0.9" height="7.399999999999977" fill="#f0f0f0"/>
<rect x="214.2" y="632.4" width="0.9" height="7.399999999999977" fill="#f0f0f0"/>
<rect x="219.4" y="632.4" width="0.9" height="7.399999999999977" fill="#f0f0f0"/>
<rect x="224.6" y="632.4" width="0.9" height="7.399999999999977" fill="#f0f0f0"/>
<rect x="229.8" y="632.4" width="0.9" height="7.399999999999977" fill="#f0f0f0"/>
<rect x="26.6" y="632.9" width="22.4" height="1.35" fill="#5a5ac8"/>
<rect x="26.6" y="634.6" width="9.5" height="1.35" fill="#5a5ac8"/>
<rect x="146.8" y="632.9" width="18.2" height="1.35" fill="#d06868"/>
<rect x="131.3" y="636.3" width="13.7" height="1.35" fill="#c85a5a"/>
<rect x="145.0" y="636.3" width="7.3" height="1.35" fill="#d06868"/>
<rect x="214.1" y="632.9" width="17.6" height="1.35" fill="#6a6ad0"/>
<rect x="212.4" y="634.6" width="19.3" height="1.35" fill="#6a6ad0"/>
<rect x="214.6" y="636.3" width="6.4" height="1.35" fill="#6a6ad0"/>
<rect x="221.0" y="636.3" width="10.7" height="1.35" fill="#6a6ad0"/>
<rect x="25.2" y="632.4" width="1.6" height="7.399999999999977" fill="#111"/>
<rect x="229.8" y="632.4" width="1.5" height="7.399999999999977" fill="#111" opacity="0.85"/>
<path d="M146.7,632.4 L146.7,639.6 A6.400000000000006,6.400000000000006 0 0 0 159.5,639.6 L159.5,632.4Z" fill="#8a8a8a"/>
<path d="M148.2,632.4 L148.2,639.6 M158.0,632.4 L158.0,639.6" stroke="#a0a0a0" stroke-width="1"/>
<ellipse cx="153.1" cy="634.6" rx="5.2000000000000055" ry="3.2" fill="#e0e0e0"/>
<path d="M168.2,630.6 L233.3,630.6 L233.3,641.4 L168.2,641.4" fill="none" stroke="#000" stroke-width="1.2"/>
<rect x="26.2" y="647.9" width="206" height="13.300000000000068" fill="#f5f2cf"/>
<rect x="27.0" y="647.9" width="0.9" height="13.300000000000068" fill="#fbf8e4"/>
<rect x="32.2" y="647.9" width="0.9" height="13.300000000000068" fill="#fbf8e4"/>
<rect x="37.4" y="647.9" width="0.9" height="13.300000000000068" fill="#fbf8e4"/>
<rect x="42.6" y="647.9" width="0.9" height="13.300000000000068" fill="#fbf8e4"/>
<rect x="47.8" y="647.9" width="0.9" height="13.300000000000068" fill="#fbf8e4"/>
<rect x="53.0" y="647.9" width="0.9" height="13.300000000000068" fill="#fbf8e4"/>
<rect x="58.2" y="647.9" width="0.9" height="13.300000000000068" fill="#fbf8e4"/>
<rect x="63.4" y="647.9" width="0.9" height="13.300000000000068" fill="#fbf8e4"/>
<rect x="68.6" y="647.9" width="0.9" height="13.300000000000068" fill="#fbf8e4"/>
<rect x="73.8" y="647.9" width="0.9" height="13.300000000000068" fill="#fbf8e4"/>
<rect x="79.0" y="647.9" width="0.9" height="13.300000000000068" fill="#fbf8e4"/>
<rect x="84.2" y="647.9" width="0.9" height="13.300000000000068" fill="#fbf8e4"/>
<rect x="89.4" y="647.9" width="0.9" height="13.300000000000068" fill="#fbf8e4"/>
<rect x="94.6" y="647.9" width="0.9" height="13.300000000000068" fill="#fbf8e4"/>
<rect x="99.8" y="647.9" width="0.9" height="13.300000000000068" fill="#fbf8e4"/>
<rect x="105.0" y="647.9" width="0.9" height="13.300000000000068" fill="#fbf8e4"/>
<rect x="110.2" y="647.9" width="0.9" height="13.300000000000068" fill="#fbf8e4"/>
<rect x="115.4" y="647.9" width="0.9" height="13.300000000000068" fill="#fbf8e4"/>
<rect x="120.6" y="647.9" width="0.9" height="13.300000000000068" fill="#fbf8e4"/>
<rect x="125.8" y="647.9" width="0.9" height="13.300000000000068" fill="#fbf8e4"/>
<rect x="131.0" y="647.9" width="0.9" height="13.300000000000068" fill="#fbf8e4"/>
<rect x="136.2" y="647.9" width="0.9" height="13.300000000000068" fill="#fbf8e4"/>
<rect x="141.4" y="647.9" width="0.9" height="13.300000000000068" fill="#fbf8e4"/>
<rect x="146.6" y="647.9" width="0.9" height="13.300000000000068" fill="#fbf8e4"/>
<rect x="151.8" y="647.9" width="0.9" height="13.300000000000068" fill="#fbf8e4"/>
<rect x="157.0" y="647.9" width="0.9" height="13.300000000000068" fill="#fbf8e4"/>
<rect x="162.2" y="647.9" width="0.9" height="13.300000000000068" fill="#fbf8e4"/>
<rect x="167.4" y="647.9" width="0.9" height="13.300000000000068" fill="#fbf8e4"/>
<rect x="172.6" y="647.9" width="0.9" height="13.300000000000068" fill="#fbf8e4"/>
<rect x="177.8" y="647.9" width="0.9" height="13.300000000000068" fill="#fbf8e4"/>
<rect x="183.0" y="647.9" width="0.9" height="13.300000000000068" fill="#fbf8e4"/>
<rect x="188.2" y="647.9" width="0.9" height="13.300000000000068" fill="#fbf8e4"/>
<rect x="193.4" y="647.9" width="0.9" height="13.300000000000068" fill="#fbf8e4"/>
<rect x="198.6" y="647.9" width="0.9" height="13.300000000000068" fill="#fbf8e4"/>
<rect x="203.8" y="647.9" width="0.9" height="13.300000000000068" fill="#fbf8e4"/>
<rect x="209.0" y="647.9" width="0.9" height="13.300000000000068" fill="#fbf8e4"/>
<rect x="214.2" y="647.9" width="0.9" height="13.300000000000068" fill="#fbf8e4"/>
<rect x="219.4" y="647.9" width="0.9" height="13.300000000000068" fill="#fbf8e4"/>
<rect x="224.6" y="647.9" width="0.9" height="13.300000000000068" fill="#fbf8e4"/>
<rect x="229.8" y="647.9" width="0.9" height="13.300000000000068" fill="#fbf8e4"/>
<rect x="26.6" y="648.4" width="34.0" height="1.35" fill="#e0a080"/>
<rect x="30.5" y="650.1" width="13.4" height="1.35" fill="#d07050"/>
<rect x="44.0" y="650.1" width="16.2" height="1.35" fill="#e0a080"/>
<rect x="26.6" y="651.8" width="12.5" height="1.35" fill="#e08a60"/>
<rect x="39.1" y="651.8" width="18.3" height="1.35" fill="#6a6ac8"/>
<rect x="26.6" y="653.5" width="36.4" height="1.35" fill="#6a6ac8"/>
<rect x="37.5" y="655.2" width="25.0" height="1.35" fill="#d07050"/>
<rect x="26.6" y="656.9" width="31.1" height="1.35" fill="#6a6ac8"/>
<rect x="38.0" y="658.6" width="16.4" height="1.35" fill="#6a6ac8"/>
<rect x="83.6" y="651.8" width="4.2" height="1.35" fill="#6a6ac8"/>
<rect x="75.0" y="653.5" width="16.4" height="1.35" fill="#d07050"/>
<rect x="81.6" y="656.9" width="11.4" height="1.35" fill="#d07050"/>
<rect x="79.6" y="658.6" width="6.1" height="1.35" fill="#e08a60"/>
<rect x="108.2" y="648.4" width="27.0" height="1.35" fill="#e08a60"/>
<rect x="111.4" y="651.8" width="26.7" height="1.35" fill="#d07050"/>
<rect x="112.2" y="653.5" width="36.0" height="1.35" fill="#6a6ac8"/>
<rect x="108.2" y="655.2" width="38.5" height="1.35" fill="#e0a080"/>
<rect x="108.2" y="656.9" width="34.5" height="1.35" fill="#e08a60"/>
<rect x="108.2" y="658.6" width="38.1" height="1.35" fill="#d07050"/>
<rect x="215.4" y="648.4" width="16.3" height="1.35" fill="#6a6ac8"/>
<rect x="212.4" y="650.1" width="19.3" height="1.35" fill="#e0a080"/>
<rect x="216.1" y="651.8" width="15.6" height="1.35" fill="#d07050"/>
<rect x="212.8" y="653.5" width="18.9" height="1.35" fill="#6a6ac8"/>
<rect x="212.4" y="655.2" width="19.3" height="1.35" fill="#e0a080"/>
<rect x="212.4" y="656.9" width="19.3" height="1.35" fill="#e0a080"/>
<rect x="214.8" y="658.6" width="11.2" height="1.35" fill="#d07050"/>
<rect x="225.9" y="658.6" width="5.8" height="1.35" fill="#d07050"/>
<rect x="25.2" y="647.9" width="1.6" height="13.300000000000068" fill="#111"/>
<rect x="229.8" y="647.9" width="1.5" height="13.300000000000068" fill="#111" opacity="0.85"/>
<path d="M148.3,647.9 L148.3,661.2 C148.3,666.7 212.4,666.7 212.4,661.2 L212.4,647.9Z" fill="url(#gsemi)"/>
<path d="M148.3,647.9 L212.4,647.9 L212.4,661.2 C212.4,664.2 148.3,664.2 148.3,661.2Z" fill="url(#ysemi)" stroke="#a8a680" stroke-width="0.5"/>
<rect x="151.5" y="647.9" width="0.7" height="14.300000000000068" fill="#ffffff" opacity="0.35"/>
<rect x="154.7" y="647.9" width="0.7" height="14.300000000000068" fill="#ffffff" opacity="0.35"/>
<rect x="157.9" y="647.9" width="0.7" height="14.300000000000068" fill="#ffffff" opacity="0.35"/>
<rect x="161.1" y="647.9" width="0.7" height="14.300000000000068" fill="#ffffff" opacity="0.35"/>
<rect x="164.3" y="647.9" width="0.7" height="14.300000000000068" fill="#ffffff" opacity="0.35"/>
<rect x="167.5" y="647.9" width="0.7" height="14.300000000000068" fill="#ffffff" opacity="0.35"/>
<rect x="170.7" y="647.9" width="0.7" height="14.300000000000068" fill="#ffffff" opacity="0.35"/>
<rect x="173.9" y="647.9" width="0.7" height="14.300000000000068" fill="#ffffff" opacity="0.35"/>
<rect x="177.1" y="647.9" width="0.7" height="14.300000000000068" fill="#ffffff" opacity="0.35"/>
<rect x="180.4" y="647.9" width="0.7" height="14.300000000000068" fill="#ffffff" opacity="0.35"/>
<rect x="183.6" y="647.9" width="0.7" height="14.300000000000068" fill="#ffffff" opacity="0.35"/>
<rect x="186.8" y="647.9" width="0.7" height="14.300000000000068" fill="#ffffff" opacity="0.35"/>
<rect x="190.0" y="647.9" width="0.7" height="14.300000000000068" fill="#ffffff" opacity="0.35"/>
<rect x="193.2" y="647.9" width="0.7" height="14.300000000000068" fill="#ffffff" opacity="0.35"/>
<rect x="196.4" y="647.9" width="0.7" height="14.300000000000068" fill="#ffffff" opacity="0.35"/>
<rect x="199.6" y="647.9" width="0.7" height="14.300000000000068" fill="#ffffff" opacity="0.35"/>
<rect x="202.8" y="647.9" width="0.7" height="14.300000000000068" fill="#ffffff" opacity="0.35"/>
<rect x="206.0" y="647.9" width="0.7" height="14.300000000000068" fill="#ffffff" opacity="0.35"/>
<rect x="209.2" y="647.9" width="0.7" height="14.300000000000068" fill="#ffffff" opacity="0.35"/>
<path d="M168.2,646.1 L233.3,646.1 L233.3,662.8000000000001 L168.2,662.8000000000001" fill="none" stroke="#000" stroke-width="1.2"/>
<rect x="26.2" y="668.9" width="206" height="22.0" fill="#e2e2e2"/>
<rect x="27.0" y="668.9" width="0.9" height="22.0" fill="#f0f0f0"/>
<rect x="32.2" y="668.9" width="0.9" height="22.0" fill="#f0f0f0"/>
<rect x="37.4" y="668.9" width="0.9" height="22.0" fill="#f0f0f0"/>
<rect x="42.6" y="668.9" width="0.9" height="22.0" fill="#f0f0f0"/>
<rect x="47.8" y="668.9" width="0.9" height="22.0" fill="#f0f0f0"/>
<rect x="53.0" y="668.9" width="0.9" height="22.0" fill="#f0f0f0"/>
<rect x="58.2" y="668.9" width="0.9" height="22.0" fill="#f0f0f0"/>
<rect x="63.4" y="668.9" width="0.9" height="22.0" fill="#f0f0f0"/>
<rect x="68.6" y="668.9" width="0.9" height="22.0" fill="#f0f0f0"/>
<rect x="73.8" y="668.9" width="0.9" height="22.0" fill="#f0f0f0"/>
<rect x="79.0" y="668.9" width="0.9" height="22.0" fill="#f0f0f0"/>
<rect x="84.2" y="668.9" width="0.9" height="22.0" fill="#f0f0f0"/>
<rect x="89.4" y="668.9" width="0.9" height="22.0" fill="#f0f0f0"/>
<rect x="94.6" y="668.9" width="0.9" height="22.0" fill="#f0f0f0"/>
<rect x="99.8" y="668.9" width="0.9" height="22.0" fill="#f0f0f0"/>
<rect x="105.0" y="668.9" width="0.9" height="22.0" fill="#f0f0f0"/>
<rect x="110.2" y="668.9" width="0.9" height="22.0" fill="#f0f0f0"/>
<rect x="115.4" y="668.9" width="0.9" height="22.0" fill="#f0f0f0"/>
<rect x="120.6" y="668.9" width="0.9" height="22.0" fill="#f0f0f0"/>
<rect x="125.8" y="668.9" width="0.9" height="22.0" fill="#f0f0f0"/>
<rect x="131.0" y="668.9" width="0.9" height="22.0" fill="#f0f0f0"/>
<rect x="136.2" y="668.9" width="0.9" height="22.0" fill="#f0f0f0"/>
<rect x="141.4" y="668.9" width="0.9" height="22.0" fill="#f0f0f0"/>
<rect x="146.6" y="668.9" width="0.9" height="22.0" fill="#f0f0f0"/>
<rect x="151.8" y="668.9" width="0.9" height="22.0" fill="#f0f0f0"/>
<rect x="157.0" y="668.9" width="0.9" height="22.0" fill="#f0f0f0"/>
<rect x="162.2" y="668.9" width="0.9" height="22.0" fill="#f0f0f0"/>
<rect x="167.4" y="668.9" width="0.9" height="22.0" fill="#f0f0f0"/>
<rect x="172.6" y="668.9" width="0.9" height="22.0" fill="#f0f0f0"/>
<rect x="177.8" y="668.9" width="0.9" height="22.0" fill="#f0f0f0"/>
<rect x="183.0" y="668.9" width="0.9" height="22.0" fill="#f0f0f0"/>
<rect x="188.2" y="668.9" width="0.9" height="22.0" fill="#f0f0f0"/>
<rect x="193.4" y="668.9" width="0.9" height="22.0" fill="#f0f0f0"/>
<rect x="198.6" y="668.9" width="0.9" height="22.0" fill="#f0f0f0"/>
<rect x="203.8" y="668.9" width="0.9" height="22.0" fill="#f0f0f0"/>
<rect x="209.0" y="668.9" width="0.9" height="22.0" fill="#f0f0f0"/>
<rect x="214.2" y="668.9" width="0.9" height="22.0" fill="#f0f0f0"/>
<rect x="219.4" y="668.9" width="0.9" height="22.0" fill="#f0f0f0"/>
<rect x="224.6" y="668.9" width="0.9" height="22.0" fill="#f0f0f0"/>
<rect x="229.8" y="668.9" width="0.9" height="22.0" fill="#f0f0f0"/>
<rect x="26.6" y="669.4" width="31.1" height="1.35" fill="#6a6ad0"/>
<rect x="26.6" y="671.1" width="14.4" height="1.35" fill="#6a6ad0"/>
<rect x="41.0" y="671.1" width="18.9" height="1.35" fill="#6a6ad0"/>
<rect x="35.7" y="674.5" width="9.6" height="1.35" fill="#6a6ad0"/>
<rect x="26.6" y="676.2" width="13.3" height="1.35" fill="#6a6ad0"/>
<rect x="39.9" y="676.2" width="6.6" height="1.35" fill="#5a5ac8"/>
<rect x="26.6" y="677.9" width="26.8" height="1.35" fill="#5a5ac8"/>
<rect x="26.6" y="679.6" width="13.8" height="1.35" fill="#6a6ad0"/>
<rect x="40.4" y="679.6" width="16.9" height="1.35" fill="#5a5ac8"/>
<rect x="38.6" y="683.0" width="17.8" height="1.35" fill="#5a5ac8"/>
<rect x="26.6" y="686.4" width="36.0" height="1.35" fill="#6a6ad0"/>
<rect x="28.2" y="688.1" width="29.9" height="1.35" fill="#6a6ad0"/>
<rect x="123.0" y="669.4" width="19.1" height="1.35" fill="#5a5ac8"/>
<rect x="119.4" y="671.1" width="6.1" height="1.35" fill="#5a5ac8"/>
<rect x="125.5" y="671.1" width="10.6" height="1.35" fill="#dc9a9a"/>
<rect x="112.6" y="674.5" width="33.3" height="1.35" fill="#5a5ac8"/>
<rect x="119.2" y="676.2" width="7.2" height="1.35" fill="#c85a5a"/>
<rect x="126.3" y="676.2" width="6.5" height="1.35" fill="#5a5ac8"/>
<rect x="124.4" y="677.9" width="6.8" height="1.35" fill="#5a5ac8"/>
<rect x="131.3" y="677.9" width="3.7" height="1.35" fill="#5a5ac8"/>
<rect x="113.6" y="681.3" width="28.7" height="1.35" fill="#dc9a9a"/>
<rect x="118.3" y="684.7" width="22.2" height="1.35" fill="#5a5ac8"/>
<rect x="126.2" y="686.4" width="12.6" height="1.35" fill="#5a5ac8"/>
<rect x="159.8" y="669.4" width="39.8" height="1.35" fill="#5a5ac8"/>
<rect x="159.5" y="671.1" width="40.0" height="1.35" fill="#5a5ac8"/>
<rect x="159.5" y="672.8" width="20.3" height="1.35" fill="#c04848"/>
<rect x="179.8" y="672.8" width="19.6" height="1.35" fill="#5a5ac8"/>
<rect x="159.5" y="674.5" width="39.7" height="1.35" fill="#c04848"/>
<rect x="159.5" y="676.2" width="39.7" height="1.35" fill="#5a5ac8"/>
<rect x="159.5" y="677.9" width="40.0" height="1.35" fill="#d06868"/>
<rect x="159.5" y="679.6" width="13.2" height="1.35" fill="#5a5ac8"/>
<rect x="172.7" y="679.6" width="18.2" height="1.35" fill="#b83c3c"/>
<rect x="159.5" y="681.3" width="21.3" height="1.35" fill="#d06868"/>
<rect x="159.5" y="683.0" width="36.0" height="1.35" fill="#c04848"/>
<rect x="159.5" y="684.7" width="29.2" height="1.35" fill="#b83c3c"/>
<rect x="159.5" y="686.4" width="36.8" height="1.35" fill="#b83c3c"/>
<rect x="159.5" y="688.1" width="15.1" height="1.35" fill="#c04848"/>
<rect x="174.6" y="688.1" width="21.2" height="1.35" fill="#d06868"/>
<rect x="212.5" y="669.4" width="19.2" height="1.35" fill="#5a5ac8"/>
<rect x="212.5" y="671.1" width="19.2" height="1.35" fill="#c85a5a"/>
<rect x="214.0" y="672.8" width="17.7" height="1.35" fill="#5a5ac8"/>
<rect x="217.5" y="674.5" width="7.6" height="1.35" fill="#5a5ac8"/>
<rect x="225.1" y="674.5" width="6.6" height="1.35" fill="#c85a5a"/>
<rect x="218.6" y="676.2" width="4.2" height="1.35" fill="#c85a5a"/>
<rect x="222.8" y="676.2" width="8.9" height="1.35" fill="#5a5ac8"/>
<rect x="217.3" y="677.9" width="14.4" height="1.35" fill="#c85a5a"/>
<rect x="217.9" y="679.6" width="13.8" height="1.35" fill="#5a5ac8"/>
<rect x="213.4" y="681.3" width="18.3" height="1.35" fill="#c85a5a"/>
<rect x="212.8" y="683.0" width="18.9" height="1.35" fill="#c85a5a"/>
<rect x="212.4" y="684.7" width="6.4" height="1.35" fill="#5a5ac8"/>
<rect x="218.8" y="684.7" width="12.9" height="1.35" fill="#c85a5a"/>
<rect x="215.4" y="686.4" width="16.3" height="1.35" fill="#c85a5a"/>
<rect x="212.9" y="688.1" width="9.2" height="1.35" fill="#c85a5a"/>
<rect x="222.1" y="688.1" width="9.6" height="1.35" fill="#dc9a9a"/>
<rect x="25.2" y="668.9" width="1.6" height="22.0" fill="#111"/>
<rect x="229.8" y="668.9" width="1.5" height="22.0" fill="#111" opacity="0.85"/>
<path d="M198,668.9 L198,688.8 A7.200000000000003,7.200000000000003 0 0 0 212.4,688.8 L212.4,668.9Z" fill="#8a8a8a"/>
<path d="M199.5,668.9 L199.5,688.8 M210.9,668.9 L210.9,688.8" stroke="#a0a0a0" stroke-width="1"/>
<ellipse cx="205.2" cy="671.1" rx="6.000000000000003" ry="3.2" fill="#e0e0e0"/>
<path d="M168.2,667.1 L233.3,667.1 L233.3,692.5 L168.2,692.5" fill="none" stroke="#000" stroke-width="1.2"/>
<rect x="26.2" y="699.5" width="206" height="21.899999999999977" fill="#f5f2cf"/>
<rect x="27.0" y="699.5" width="0.9" height="21.899999999999977" fill="#fbf8e4"/>
<rect x="32.2" y="699.5" width="0.9" height="21.899999999999977" fill="#fbf8e4"/>
<rect x="37.4" y="699.5" width="0.9" height="21.899999999999977" fill="#fbf8e4"/>
<rect x="42.6" y="699.5" width="0.9" height="21.899999999999977" fill="#fbf8e4"/>
<rect x="47.8" y="699.5" width="0.9" height="21.899999999999977" fill="#fbf8e4"/>
<rect x="53.0" y="699.5" width="0.9" height="21.899999999999977" fill="#fbf8e4"/>
<rect x="58.2" y="699.5" width="0.9" height="21.899999999999977" fill="#fbf8e4"/>
<rect x="63.4" y="699.5" width="0.9" height="21.899999999999977" fill="#fbf8e4"/>
<rect x="68.6" y="699.5" width="0.9" height="21.899999999999977" fill="#fbf8e4"/>
<rect x="73.8" y="699.5" width="0.9" height="21.899999999999977" fill="#fbf8e4"/>
<rect x="79.0" y="699.5" width="0.9" height="21.899999999999977" fill="#fbf8e4"/>
<rect x="84.2" y="699.5" width="0.9" height="21.899999999999977" fill="#fbf8e4"/>
<rect x="89.4" y="699.5" width="0.9" height="21.899999999999977" fill="#fbf8e4"/>
<rect x="94.6" y="699.5" width="0.9" height="21.899999999999977" fill="#fbf8e4"/>
<rect x="99.8" y="699.5" width="0.9" height="21.899999999999977" fill="#fbf8e4"/>
<rect x="105.0" y="699.5" width="0.9" height="21.899999999999977" fill="#fbf8e4"/>
<rect x="110.2" y="699.5" width="0.9" height="21.899999999999977" fill="#fbf8e4"/>
<rect x="115.4" y="699.5" width="0.9" height="21.899999999999977" fill="#fbf8e4"/>
<rect x="120.6" y="699.5" width="0.9" height="21.899999999999977" fill="#fbf8e4"/>
<rect x="125.8" y="699.5" width="0.9" height="21.899999999999977" fill="#fbf8e4"/>
<rect x="131.0" y="699.5" width="0.9" height="21.899999999999977" fill="#fbf8e4"/>
<rect x="136.2" y="699.5" width="0.9" height="21.899999999999977" fill="#fbf8e4"/>
<rect x="141.4" y="699.5" width="0.9" height="21.899999999999977" fill="#fbf8e4"/>
<rect x="146.6" y="699.5" width="0.9" height="21.899999999999977" fill="#fbf8e4"/>
<rect x="151.8" y="699.5" width="0.9" height="21.899999999999977" fill="#fbf8e4"/>
<rect x="157.0" y="699.5" width="0.9" height="21.899999999999977" fill="#fbf8e4"/>
<rect x="162.2" y="699.5" width="0.9" height="21.899999999999977" fill="#fbf8e4"/>
<rect x="167.4" y="699.5" width="0.9" height="21.899999999999977" fill="#fbf8e4"/>
<rect x="172.6" y="699.5" width="0.9" height="21.899999999999977" fill="#fbf8e4"/>
<rect x="177.8" y="699.5" width="0.9" height="21.899999999999977" fill="#fbf8e4"/>
<rect x="183.0" y="699.5" width="0.9" height="21.899999999999977" fill="#fbf8e4"/>
<rect x="188.2" y="699.5" width="0.9" height="21.899999999999977" fill="#fbf8e4"/>
<rect x="193.4" y="699.5" width="0.9" height="21.899999999999977" fill="#fbf8e4"/>
<rect x="198.6" y="699.5" width="0.9" height="21.899999999999977" fill="#fbf8e4"/>
<rect x="203.8" y="699.5" width="0.9" height="21.899999999999977" fill="#fbf8e4"/>
<rect x="209.0" y="699.5" width="0.9" height="21.899999999999977" fill="#fbf8e4"/>
<rect x="214.2" y="699.5" width="0.9" height="21.899999999999977" fill="#fbf8e4"/>
<rect x="219.4" y="699.5" width="0.9" height="21.899999999999977" fill="#fbf8e4"/>
<rect x="224.6" y="699.5" width="0.9" height="21.899999999999977" fill="#fbf8e4"/>
<rect x="229.8" y="699.5" width="0.9" height="21.899999999999977" fill="#fbf8e4"/>
<rect x="26.6" y="700.0" width="33.5" height="1.35" fill="#c04848"/>
<rect x="26.6" y="701.7" width="27.9" height="1.35" fill="#5a5ac8"/>
<rect x="26.6" y="703.4" width="17.9" height="1.35" fill="#c04848"/>
<rect x="26.6" y="705.1" width="34.8" height="1.35" fill="#c04848"/>
<rect x="26.6" y="706.8" width="34.2" height="1.35" fill="#c04848"/>
<rect x="26.6" y="708.5" width="22.2" height="1.35" fill="#c04848"/>
<rect x="26.6" y="710.2" width="31.5" height="1.35" fill="#5a5ac8"/>
<rect x="37.0" y="711.9" width="25.6" height="1.35" fill="#c04848"/>
<rect x="26.6" y="713.6" width="21.6" height="1.35" fill="#d06868"/>
<rect x="26.6" y="715.3" width="33.5" height="1.35" fill="#c04848"/>
<rect x="26.6" y="717.0" width="35.8" height="1.35" fill="#c04848"/>
<rect x="26.6" y="718.7" width="35.8" height="1.35" fill="#c04848"/>
<rect x="109.9" y="701.7" width="14.1" height="1.35" fill="#c85a5a"/>
<rect x="110.9" y="705.1" width="23.3" height="1.35" fill="#5a5ac8"/>
<rect x="110.6" y="710.2" width="33.5" height="1.35" fill="#c85a5a"/>
<rect x="113.3" y="711.9" width="16.9" height="1.35" fill="#5a5ac8"/>
<rect x="111.3" y="713.6" width="34.0" height="1.35" fill="#6a6ad0"/>
<rect x="113.2" y="715.3" width="16.6" height="1.35" fill="#c85a5a"/>
<rect x="128.1" y="718.7" width="7.5" height="1.35" fill="#5a5ac8"/>
<rect x="165.4" y="703.4" width="9.0" height="1.35" fill="#c85a5a"/>
<rect x="174.4" y="703.4" width="4.1" height="1.35" fill="#c85a5a"/>
<rect x="176.9" y="705.1" width="14.0" height="1.35" fill="#c85a5a"/>
<rect x="171.5" y="706.8" width="9.2" height="1.35" fill="#c85a5a"/>
<rect x="180.7" y="706.8" width="11.4" height="1.35" fill="#c85a5a"/>
<rect x="164.6" y="708.5" width="25.2" height="1.35" fill="#c85a5a"/>
<rect x="172.0" y="715.3" width="4.9" height="1.35" fill="#d07050"/>
<rect x="176.8" y="715.3" width="4.9" height="1.35" fill="#c85a5a"/>
<rect x="212.4" y="700.0" width="19.3" height="1.35" fill="#d06868"/>
<rect x="212.5" y="701.7" width="19.2" height="1.35" fill="#b83c3c"/>
<rect x="212.4" y="703.4" width="19.3" height="1.35" fill="#b83c3c"/>
<rect x="212.4" y="705.1" width="19.3" height="1.35" fill="#b83c3c"/>
<rect x="212.8" y="706.8" width="18.9" height="1.35" fill="#c04848"/>
<rect x="212.4" y="708.5" width="6.5" height="1.35" fill="#b83c3c"/>
<rect x="218.9" y="708.5" width="12.8" height="1.35" fill="#5a5ac8"/>
<rect x="212.4" y="710.2" width="6.9" height="1.35" fill="#5a5ac8"/>
<rect x="219.3" y="710.2" width="12.4" height="1.35" fill="#c04848"/>
<rect x="217.8" y="711.9" width="13.9" height="1.35" fill="#d06868"/>
<rect x="212.6" y="713.6" width="19.1" height="1.35" fill="#c04848"/>
<rect x="213.2" y="715.3" width="18.5" height="1.35" fill="#d06868"/>
<rect x="216.4" y="717.0" width="10.2" height="1.35" fill="#b83c3c"/>
<rect x="226.6" y="717.0" width="5.1" height="1.35" fill="#c04848"/>
<rect x="214.1" y="718.7" width="10.3" height="1.35" fill="#d06868"/>
<rect x="224.4" y="718.7" width="7.3" height="1.35" fill="#d06868"/>
<rect x="25.2" y="699.5" width="1.6" height="21.899999999999977" fill="#111"/>
<rect x="229.8" y="699.5" width="1.5" height="21.899999999999977" fill="#111" opacity="0.85"/>
<path d="M168.2,697.7 L233.3,697.7 L233.3,723.0 L168.2,723.0" fill="none" stroke="#000" stroke-width="1.2"/>
<rect x="26.4" y="734.6" width="30.5" height="3" fill="#a9d18e"/>
<rect x="75.2" y="734.6" width="17.0" height="3" fill="#a9d18e"/>
<rect x="104" y="734.6" width="41" height="3" fill="#a9d18e"/>
<rect x="210.8" y="734.6" width="20.19999999999999" height="3" fill="#a9d18e"/>
<path d="M92.2,736 C92.2,744.5 104,744.5 104,736" fill="none" stroke="#000" stroke-width="0.8"/>
<path d="M145,736 C150,745 206,745 210.8,736" fill="none" stroke="#000" stroke-width="0.8"/>
<text stroke="#000" stroke-width="0.2" transform="translate(18.2,644.7) rotate(-90)" font-family="Liberation Serif" font-size="13">BSJ reads</text>
<text stroke="#000" stroke-width="0.2" transform="translate(18.2,752) rotate(-90)" font-family="Liberation Serif" font-size="13">RO reads</text>
<path d="M243.4,480.8 L261.8,480.8 L261.8,476.8 L275.3,482.8 L261.8,488.8 L261.8,484.8 L243.4,484.8Z" fill="#8c8c8c"/>
<text x="355.7" y="412.4" font-family="Liberation Serif" font-weight="bold" font-size="12.5" text-anchor="middle">Forward splice graph</text>
<line x1="302.7" y1="448.2" x2="405" y2="592" stroke="#b4b4b4" stroke-width="1.3"/>
<path d="M407.7,596 L400.6,590.2 L405.4,587Z" fill="#b4b4b4"/>
<rect x="299.2" y="330" width="0" height="0"/>
<line x1="331" y1="433.5" x2="394.4" y2="433.5" stroke="#000" stroke-width="5"/>
<path d="M318,433.5 L331.5,426.5 L331.5,440.5Z" fill="#000"/>
<text stroke="#000" stroke-width="0.2" x="361.7" y="428.8" font-family="Liberation Serif" font-size="12.2" text-anchor="middle">135</text>
<line x1="302.2" y1="448.2" x2="302.2" y2="497.5" stroke="#b4b4b4" stroke-width="2.6"/>
<path d="M302.2,507.5 L297.8,497 L306.6,497Z" fill="#b4b4b4"/>
<line x1="317.4" y1="523.6" x2="389" y2="441" stroke="#d42a1a" stroke-width="1.3"/>
<path d="M394.4,433.5 L392.5,444.5 L385.5,438.5Z" fill="#d42a1a"/>
<line x1="408.8" y1="507.5" x2="408.8" y2="458.5" stroke="#b4b4b4" stroke-width="2.6"/>
<path d="M408.8,448.2 L404.4,459 L413.2,459Z" fill="#b4b4b4"/>
<line x1="408.8" y1="597.5" x2="408.8" y2="548.5" stroke="#b4b4b4" stroke-width="1.6"/>
<path d="M408.8,538.2 L404.6,549 L413,549Z" fill="#b4b4b4"/>
<line x1="302" y1="538.2" x2="386.5" y2="604.5" stroke="#5b9a3a" stroke-width="1.3"/>
<path d="M394.3,610.5 L383.5,607.5 L388.5,601Z" fill="#5b9a3a"/>
<path d="M424.4,612 L444.8,612 L444.8,433.5 L434,433.5" fill="none" stroke="#5b9a3a" stroke-width="1.3"/>
<path d="M424.4,433.5 L435,429 L435,438Z" fill="#5b9a3a"/>
<rect x="287.7" y="418.3" width="29.7" height="29.9" fill="#e4b4ec" stroke="#000" stroke-width="1.6"/>
<text stroke="#44546a" stroke-width="0.2" x="302.55" y="438.5" font-family="Liberation Serif" font-size="15" fill="#44546a" text-anchor="middle">67</text>
<rect x="394.3" y="418.3" width="29.7" height="29.9" fill="#c9e0b8" stroke="#000" stroke-width="1.6"/>
<text stroke="#44546a" stroke-width="0.2" x="409.15000000000003" y="438.5" font-family="Liberation Serif" font-size="15" fill="#44546a" text-anchor="middle">108</text>
<rect x="287.7" y="507.8" width="29.7" height="29.9" fill="#ffe699" stroke="#000" stroke-width="1.6"/>
<text stroke="#44546a" stroke-width="0.2" x="302.55" y="528.0" font-family="Liberation Serif" font-size="15" fill="#44546a" text-anchor="middle">41</text>
<rect x="394.3" y="507.8" width="29.7" height="29.9" fill="#b4d2ec" stroke="#000" stroke-width="1.6"/>
<text stroke="#44546a" stroke-width="0.2" x="409.15000000000003" y="528.0" font-family="Liberation Serif" font-size="15" fill="#44546a" text-anchor="middle">16</text>
<rect x="394.3" y="597.8" width="29.7" height="29.9" fill="#ffb0aa" stroke="#000" stroke-width="1.6"/>
<text stroke="#44546a" stroke-width="0.2" x="409.15000000000003" y="618.0" font-family="Liberation Serif" font-size="15" fill="#44546a" text-anchor="middle">30</text>
<text stroke="#8c8c8c" stroke-width="0.2" x="291.7" y="481.5" font-family="Liberation Serif" font-size="12.5" fill="#8c8c8c" text-anchor="middle">33</text>
<text stroke="#8c8c8c" stroke-width="0.2" x="335.6" y="481.5" font-family="Liberation Serif" font-size="12.5" fill="#8c8c8c" text-anchor="middle">11</text>
<text stroke="#c00000" stroke-width="0.2" x="371.5" y="479.3" font-family="Liberation Serif" font-size="12.5" fill="#c00000" text-anchor="middle">15</text>
<text stroke="#8c8c8c" stroke-width="0.2" x="418.1" y="487.6" font-family="Liberation Serif" font-size="12.5" fill="#8c8c8c" text-anchor="middle">29</text>
<text stroke="#5b9a3a" stroke-width="0.2" x="351.5" y="571" font-family="Liberation Serif" font-size="12.5" fill="#5b9a3a" text-anchor="middle">13</text>
<text stroke="#8c8c8c" stroke-width="0.2" x="418.5" y="574.4" font-family="Liberation Serif" font-size="12.5" fill="#8c8c8c" text-anchor="middle">12</text>
<text stroke="#5b9a3a" stroke-width="0.2" x="453.2" y="522.2" font-family="Liberation Serif" font-size="12.5" fill="#5b9a3a" text-anchor="middle">17</text>
<line x1="255.1" y1="575.1" x2="273" y2="575.1" stroke="#d42a1a" stroke-width="1.6"/>
<path d="M282,575.1 L272,571.1 L272,579.1Z" fill="#d42a1a"/>
<line x1="255.1" y1="588.5" x2="273" y2="588.5" stroke="#5b9a3a" stroke-width="1.6"/>
<path d="M282,588.5 L272,584.5 L272,592.5Z" fill="#5b9a3a"/>
<line x1="255.1" y1="600.9" x2="273" y2="600.9" stroke="#a6a6a6" stroke-width="1.6"/>
<path d="M282,600.9 L272,596.9 L272,604.9Z" fill="#a6a6a6"/>
<rect x="255.1" y="612.8" width="21.9" height="5" fill="#000"/>
<text stroke="#000" stroke-width="0.2" x="282" y="580.1" font-family="Liberation Serif" font-size="10.5">phasing FSJ</text>
<text stroke="#000" stroke-width="0.2" x="280.3" y="593.5" font-family="Liberation Serif" font-size="10.75">co-occurred FSJs</text>
<text stroke="#000" stroke-width="0.2" x="282" y="605.3" font-family="Liberation Serif" font-size="10.75">unphasing FSJ</text>
<text stroke="#000" stroke-width="0.2" x="282" y="619.7" font-family="Liberation Serif" font-size="10.75">BSJ</text>
<text stroke="#8c8c8c" stroke-width="0.2" x="266" y="633.1" font-family="Liberation Serif" font-size="11" fill="#8c8c8c" text-anchor="middle">12</text>
<text stroke="#000" stroke-width="0.2" x="280.3" y="633.1" font-family="Liberation Serif" font-size="10.75">FSJ support</text>
<rect x="255.6" y="641" width="21" height="21" fill="#b4d2ec" stroke="#000" stroke-width="1.3"/>
<text stroke="#44546a" stroke-width="0.2" x="266.1" y="655.5" font-family="Liberation Serif" font-size="9" fill="#44546a" text-anchor="middle">16</text>
<text stroke="#000" stroke-width="0.2" x="280.3" y="646.5" font-family="Liberation Serif" font-size="10.8">median coverage of</text>
<text stroke="#000" stroke-width="0.2" x="280.3" y="659.9" font-family="Liberation Serif" font-size="10.4">BSJ reads on circexon</text>
<path d="M386.3,637 L390.5,637 L390.5,655 L394.3,655 L388.4,666.6 L382.5,655 L386.3,655Z" fill="#8c8c8c"/>
<text stroke="#c00000" stroke-width="0.2" x="396.6" y="650.5" font-family="Liberation Serif" font-size="10.9" fill="#c00000">Output optimal</text>
<text stroke="#c00000" stroke-width="0.2" x="430.3" y="662.2" font-family="Liberation Serif" font-size="10.9" fill="#c00000" text-anchor="middle">solution</text>
<path d="M258.17,694.66 A34.2,34.2 0 0 1 293.69,666.15 L293.28,674.04 A26.3,26.3 0 0 0 265.96,695.96Z" fill="#cc99e0" stroke="#000" stroke-width="0.0"/>
<path d="M293.69,666.15 A34.2,34.2 0 0 1 317.03,677.11 L311.23,682.46 A26.3,26.3 0 0 0 293.28,674.04Z" fill="#b4dca0" stroke="#000" stroke-width="0.0"/>
<path d="M317.03,677.11 A34.2,34.2 0 0 1 314.16,726.27 L309.02,720.27 A26.3,26.3 0 0 0 311.23,682.46Z" fill="#b4d2ec" stroke="#000" stroke-width="0.0"/>
<path d="M314.16,726.27 A34.2,34.2 0 0 1 264.34,720.55 L270.70,715.87 A26.3,26.3 0 0 0 309.02,720.27Z" fill="#ffb0aa" stroke="#000" stroke-width="0.0"/>
<path d="M264.34,720.55 A34.2,34.2 0 0 1 258.17,694.66 L265.96,695.96 A26.3,26.3 0 0 0 270.70,715.87Z" fill="#ffe080" stroke="#000" stroke-width="0.0"/>
<circle cx="291.9" cy="700.3" r="34.2" fill="none" stroke="#000" stroke-width="1.3"/>
<circle cx="291.9" cy="700.3" r="26.3" fill="#fff" stroke="#000" stroke-width="1.3"/>
<line x1="265.96" y1="695.96" x2="258.17" y2="694.66" stroke="#fff" stroke-width="1.4"/>
<line x1="293.28" y1="674.04" x2="293.69" y2="666.15" stroke="#fff" stroke-width="1.4"/>
<line x1="311.23" y1="682.46" x2="317.03" y2="677.11" stroke="#fff" stroke-width="1.4"/>
<line x1="309.02" y1="720.27" x2="314.16" y2="726.27" stroke="#fff" stroke-width="1.4"/>
<line x1="270.70" y1="715.87" x2="264.34" y2="720.55" stroke="#fff" stroke-width="1.4"/>
<text stroke="#000" stroke-width="0.2" x="291.9" y="704.0799999999999" font-family="Liberation Serif" font-size="10.8" text-anchor="middle">780 bp</text>
<path d="M331.74,711.82 A29,29 0 0 1 362.02,676.37 L361.57,682.85 A22.5,22.5 0 0 0 338.08,710.36Z" fill="#cc99e0" stroke="#000" stroke-width="0.0"/>
<path d="M362.02,676.37 A29,29 0 0 1 384.70,690.10 L379.16,693.51 A22.5,22.5 0 0 0 361.57,682.85Z" fill="#b4dca0" stroke="#000" stroke-width="0.0"/>
<path d="M384.70,690.10 A29,29 0 0 1 377.05,728.76 L373.23,723.50 A22.5,22.5 0 0 0 379.16,693.51Z" fill="#b4d2ec" stroke="#000" stroke-width="0.0"/>
<path d="M377.05,728.76 A29,29 0 0 1 331.74,711.82 L338.08,710.36 A22.5,22.5 0 0 0 373.23,723.50Z" fill="#ffb0aa" stroke="#000" stroke-width="0.0"/>
<circle cx="360" cy="705.3" r="29" fill="none" stroke="#000" stroke-width="1.3"/>
<circle cx="360" cy="705.3" r="22.5" fill="#fff" stroke="#000" stroke-width="1.3"/>
<line x1="338.08" y1="710.36" x2="331.74" y2="711.82" stroke="#fff" stroke-width="1.4"/>
<line x1="361.57" y1="682.85" x2="362.02" y2="676.37" stroke="#fff" stroke-width="1.4"/>
<line x1="379.16" y1="693.51" x2="384.70" y2="690.10" stroke="#fff" stroke-width="1.4"/>
<line x1="373.23" y1="723.50" x2="377.05" y2="728.76" stroke="#fff" stroke-width="1.4"/>
<text stroke="#000" stroke-width="0.2" x="360" y="709.15" font-family="Liberation Serif" font-size="11" text-anchor="middle">669 bp</text>
<path d="M400.47,721.34 A23.6,23.6 0 0 1 420.62,684.21 L420.43,689.81 A18,18 0 0 0 405.06,718.12Z" fill="#cc99e0" stroke="#000" stroke-width="0.0"/>
<path d="M420.62,684.21 A23.6,23.6 0 0 1 439.13,694.26 L434.54,697.48 A18,18 0 0 0 420.43,689.81Z" fill="#b4dca0" stroke="#000" stroke-width="0.0"/>
<path d="M439.13,694.26 A23.6,23.6 0 0 1 423.90,731.04 L422.93,725.53 A18,18 0 0 0 434.54,697.48Z" fill="#ffb0aa" stroke="#000" stroke-width="0.0"/>
<path d="M423.90,731.04 A23.6,23.6 0 0 1 400.47,721.34 L405.06,718.12 A18,18 0 0 0 422.93,725.53Z" fill="#ffe080" stroke="#000" stroke-width="0.0"/>
<circle cx="419.8" cy="707.8" r="23.6" fill="none" stroke="#000" stroke-width="1.3"/>
<circle cx="419.8" cy="707.8" r="18" fill="#fff" stroke="#000" stroke-width="1.3"/>
<line x1="405.06" y1="718.12" x2="400.47" y2="721.34" stroke="#fff" stroke-width="1.4"/>
<line x1="420.43" y1="689.81" x2="420.62" y2="684.21" stroke="#fff" stroke-width="1.4"/>
<line x1="434.54" y1="697.48" x2="439.13" y2="694.26" stroke="#fff" stroke-width="1.4"/>
<line x1="422.93" y1="725.53" x2="423.90" y2="731.04" stroke="#fff" stroke-width="1.4"/>
<text stroke="#000" stroke-width="0.2" x="419.8" y="710.9499999999999" font-family="Liberation Serif" font-size="9" text-anchor="middle">580 bp</text>
<path d="M469.20,729.21 A19,19 0 0 1 473.16,691.51 L473.00,696.21 A14.3,14.3 0 0 0 470.02,724.58Z" fill="#cc99e0" stroke="#000" stroke-width="0.0"/>
<path d="M473.16,691.51 A19,19 0 0 1 490.35,717.00 L485.94,715.39 A14.3,14.3 0 0 0 473.00,696.21Z" fill="#b4dca0" stroke="#000" stroke-width="0.0"/>
<path d="M490.35,717.00 A19,19 0 0 1 469.20,729.21 L470.02,724.58 A14.3,14.3 0 0 0 485.94,715.39Z" fill="#ffe080" stroke="#000" stroke-width="0.0"/>
<circle cx="472.5" cy="710.5" r="19" fill="none" stroke="#000" stroke-width="1.3"/>
<circle cx="472.5" cy="710.5" r="14.3" fill="#fff" stroke="#000" stroke-width="1.3"/>
<line x1="470.02" y1="724.58" x2="469.20" y2="729.21" stroke="#fff" stroke-width="1.4"/>
<line x1="473.00" y1="696.21" x2="473.16" y2="691.51" stroke="#fff" stroke-width="1.4"/>
<line x1="485.94" y1="715.39" x2="490.35" y2="717.00" stroke="#fff" stroke-width="1.4"/>
<text stroke="#000" stroke-width="0.2" x="472.5" y="713.475" font-family="Liberation Serif" font-size="8.5" text-anchor="middle">381 bp</text>
<text stroke="#000" stroke-width="0.2" x="502.7" y="716.7" font-family="Liberation Serif" font-size="17.3">= 16 : 42 : 39 : 36</text>
<text stroke="#c00000" stroke-width="0.2" x="569.4" y="732.8" font-family="Liberation Serif" font-size="10.75" fill="#c00000" text-anchor="middle">Isoform-level quantification</text>
<text x="575.4" y="413" font-family="Liberation Serif" font-weight="bold" font-size="12.2" text-anchor="middle">Isoform traversing</text>
<text x="503.8" y="437.3" font-family="Liberation Serif" font-weight="bold" font-size="9.1">Phased isoforms</text>
<text x="502.7" y="498.3" font-family="Liberation Serif" font-weight="bold" font-size="9.2">Candidate isoforms</text>
<rect x="529" y="448.3" width="27.5" height="8.300000000000011" fill="#e4b4ec" stroke="#000" stroke-width="1.2"/>
<rect x="556.5" y="448.3" width="19.799999999999955" height="8.300000000000011" fill="#ffe699" stroke="#000" stroke-width="1.2"/>
<rect x="576.3" y="448.3" width="27.90000000000009" height="8.300000000000011" fill="#ffb0aa" stroke="#000" stroke-width="1.2"/>
<rect x="604.2" y="448.3" width="13.299999999999955" height="8.300000000000011" fill="#c9e0b8" stroke="#000" stroke-width="1.2"/>
<rect x="529" y="474.8" width="27.5" height="8.300000000000011" fill="#e4b4ec" stroke="#000" stroke-width="1.2"/>
<rect x="556.5" y="474.8" width="19.799999999999955" height="8.300000000000011" fill="#ffe699" stroke="#000" stroke-width="1.2"/>
<rect x="576.3" y="474.8" width="13.600000000000023" height="8.300000000000011" fill="#c9e0b8" stroke="#000" stroke-width="1.2"/>
<rect x="529" y="504.5" width="27.5" height="8.100000000000023" fill="#e4b4ec" stroke="#000" stroke-width="1.2"/>
<rect x="556.5" y="504.5" width="28.0" height="8.100000000000023" fill="#ffb0aa" stroke="#000" stroke-width="1.2"/>
<rect x="584.5" y="504.5" width="26.5" height="8.100000000000023" fill="#b4d2ec" stroke="#000" stroke-width="1.2"/>
<rect x="611" y="504.5" width="13.700000000000045" height="8.100000000000023" fill="#c9e0b8" stroke="#000" stroke-width="1.2"/>
<rect x="529" y="517" width="27.5" height="8.100000000000023" fill="#e4b4ec" stroke="#000" stroke-width="1.2"/>
<rect x="556.5" y="517" width="28.0" height="8.100000000000023" fill="#ffb0aa" stroke="#000" stroke-width="1.2"/>
<rect x="584.5" y="517" width="12.5" height="8.100000000000023" fill="#c9e0b8" stroke="#000" stroke-width="1.2"/>
<rect x="529" y="529.6" width="27.5" height="8.100000000000023" fill="#e4b4ec" stroke="#000" stroke-width="1.2"/>
<rect x="556.5" y="529.6" width="19.799999999999955" height="8.100000000000023" fill="#ffe699" stroke="#000" stroke-width="1.2"/>
<rect x="576.3" y="529.6" width="27.90000000000009" height="8.100000000000023" fill="#ffb0aa" stroke="#000" stroke-width="1.2"/>
<rect x="604.2" y="529.6" width="27.59999999999991" height="8.100000000000023" fill="#b4d2ec" stroke="#000" stroke-width="1.2"/>
<rect x="631.8" y="529.6" width="13.200000000000045" height="8.100000000000023" fill="#c9e0b8" stroke="#000" stroke-width="1.2"/>
<text stroke="#000" stroke-width="0.2" x="502.7" y="455.2" font-family="Liberation Serif" font-size="10.5">path1</text>
<text stroke="#000" stroke-width="0.2" x="502.7" y="481.5" font-family="Liberation Serif" font-size="10.5">path2</text>
<text stroke="#000" stroke-width="0.2" x="502.7" y="512.6" font-family="Liberation Serif" font-size="10.5">path3</text>
<text stroke="#000" stroke-width="0.2" x="502.7" y="524.8" font-family="Liberation Serif" font-size="10.5">path4</text>
<text stroke="#000" stroke-width="0.2" x="502.7" y="537.3" font-family="Liberation Serif" font-size="10.5">path5</text>
<text stroke="#000" stroke-width="0.2" x="621" y="452.4" font-family="Liberation Serif" font-size="9.1">RO-supported</text>
<text stroke="#000" stroke-width="0.2" x="621" y="463.1" font-family="Liberation Serif" font-size="9.1">isoform</text>
<text stroke="#000" stroke-width="0.2" x="592.4" y="482" font-family="Liberation Serif" font-size="9.2">Simple isoform</text>
<text stroke="#5b9a3a" stroke-width="0.2" x="576.3" y="466.5" font-family="Liberation Serif" font-size="12" fill="#5b9a3a" text-anchor="middle">*</text>
<text stroke="#5b9a3a" stroke-width="0.2" x="604.2" y="466.5" font-family="Liberation Serif" font-size="12" fill="#5b9a3a" text-anchor="middle">*</text>
<text stroke="#c00000" stroke-width="0.2" x="576.3" y="492" font-family="Liberation Serif" font-size="12" fill="#c00000" text-anchor="middle">*</text>
<text stroke="#c00000" stroke-width="0.2" x="475" y="449.5" font-family="Liberation Serif" font-size="10.75" fill="#c00000" text-anchor="middle">DFS</text>
<text stroke="#c00000" stroke-width="0.2" x="474.6" y="463.1" font-family="Liberation Serif" font-size="10.75" fill="#c00000" text-anchor="middle">path search</text>
<path d="M453.6,469.4 L483,469.4 L483,464.2 L497.4,472.1 L483,480 L483,474.8 L453.6,474.8Z" fill="#8c8c8c"/>
<text stroke="#c00000" stroke-width="0.2" x="477.6" y="561.7" font-family="Liberation Serif" font-size="10.85" fill="#c00000" text-anchor="middle">Approximate</text>
<text stroke="#c00000" stroke-width="0.2" x="476.7" y="573.2" font-family="Liberation Serif" font-size="10.85" fill="#c00000" text-anchor="middle">exhaustive</text>
<text stroke="#c00000" stroke-width="0.2" x="476.6" y="585" font-family="Liberation Serif" font-size="10.85" fill="#c00000" text-anchor="middle">search</text>
<path d="M499.2,591.3 L467,591.3 L467,586.2 L452.5,594 L467,601.8 L467,596.7 L499.2,596.7Z" fill="#8c8c8c"/>
<path d="M519.8,558.5 L537.2,579.6 L557,590.8 L571.9,600.7 L591.7,601.9 L609,590.8 L635,582 L648.7,558.5 L648.7,614.8 L519.8,614.8Z" fill="#b8c6d8"/>
<path d="M576.8,541.2 L581.8,541.2 L581.8,559.8 L585.5,559.8 L579.3,571 L571.9,559.8 L576.8,559.8Z" fill="#8c8c8c"/>
<text stroke="#c00000" stroke-width="0.2" x="585.2" y="555.6" font-family="Liberation Serif" font-size="10.8" fill="#c00000">Monte-Carlo method</text>
<line x1="557" y1="594.5" x2="557" y2="614.8" stroke="#000" stroke-width="1.1" stroke-dasharray="1.3,1.3"/>
<line x1="592.9" y1="594.5" x2="592.9" y2="614.8" stroke="#000" stroke-width="1.1" stroke-dasharray="1.3,1.3"/>
<line x1="628.9" y1="594.5" x2="628.9" y2="614.8" stroke="#000" stroke-width="1.1" stroke-dasharray="1.3,1.3"/>
<text stroke="#000" stroke-width="0.2" x="565" y="580.8" font-family="Liberation Serif" font-size="8" text-anchor="middle">Sp(3, 1~3)</text>
<text stroke="#000" stroke-width="0.2" x="597.9" y="592.5" font-family="Liberation Serif" font-size="8" text-anchor="middle">Sp(3, 3~4)</text>
<text stroke="#000" stroke-width="0.2" x="631.6" y="577.1" font-family="Liberation Serif" font-size="8" text-anchor="middle">Sp(3, 4~5)</text>
<text stroke="#000" stroke-width="0.2" x="538.4" y="608.1" font-family="Liberation Serif" font-size="7.7" text-anchor="middle">Cov(3, 1)</text>
<text stroke="#000" stroke-width="0.2" x="574.6" y="608.1" font-family="Liberation Serif" font-size="7.7" text-anchor="middle">Cov(3, 3)</text>
<text stroke="#000" stroke-width="0.2" x="611.3" y="608.1" font-family="Liberation Serif" font-size="7.7" text-anchor="middle">Cov(3, 4)</text>
<text stroke="#000" stroke-width="0.2" x="649.3" y="608.1" font-family="Liberation Serif" font-size="7.7" text-anchor="middle">Cov(3, 5)</text>
<text stroke="#000" stroke-width="0.2" x="500" y="624.5" font-family="Liberation Serif" font-size="9.3" text-anchor="middle">Simulated</text>
<text stroke="#000" stroke-width="0.2" x="500.1" y="636" font-family="Liberation Serif" font-size="9.3" text-anchor="middle">reads</text>
<rect x="519.8" y="620.9000000000001" width="24.300000000000068" height="1.6" fill="#5b9bd5"/>
<rect x="554" y="620.9000000000001" width="33.200000000000045" height="1.6" fill="#f4b183"/>
<rect x="633.3" y="620.9000000000001" width="13.400000000000091" height="1.6" fill="#5b9bd5"/>
<rect x="519.8" y="625.2" width="19.40000000000009" height="1.6" fill="#f4b183"/>
<rect x="594.2" y="625.2" width="39.59999999999991" height="1.6" fill="#5b9bd5"/>
<rect x="628.9" y="625.2" width="17.800000000000068" height="1.6" fill="#f4b183"/>
<rect x="519.8" y="629.6" width="7.0" height="1.6" fill="#5b9bd5"/>
<rect x="526.8" y="629.6" width="33.200000000000045" height="1.6" fill="#f4b183"/>
<rect x="622" y="629.6" width="26" height="1.6" fill="#5b9bd5"/>
<rect x="519.8" y="635.1" width="20.300000000000068" height="1.6" fill="#5b9bd5"/>
<rect x="542.1" y="635.1" width="32.69999999999993" height="1.6" fill="#f4b183"/>
<rect x="624.4" y="635.1" width="23.600000000000023" height="1.6" fill="#5b9bd5"/>
<rect x="519.8" y="642.3" width="37.200000000000045" height="8.400000000000091" fill="#e4b4ec" stroke="#000" stroke-width="1.2"/>
<rect x="557" y="642.3" width="36.39999999999998" height="8.400000000000091" fill="#ffb0aa" stroke="#000" stroke-width="1.2"/>
<rect x="593.4" y="642.3" width="36.0" height="8.400000000000091" fill="#b4d2ec" stroke="#000" stroke-width="1.2"/>
<rect x="629.4" y="642.3" width="18.600000000000023" height="8.400000000000091" fill="#c9e0b8" stroke="#000" stroke-width="1.2"/>
<text stroke="#000" stroke-width="0.2" x="494.5" y="649.6" font-family="Liberation Serif" font-size="11.3">path3</text>
<text x="588.4" y="666.8" font-family="Liberation Serif" font-weight="bold" font-size="12.3" text-anchor="middle">Estimate sequencing depth</text>
<text x="588" y="680.1" font-family="Liberation Serif" font-weight="bold" font-size="12.3" text-anchor="middle">for each path</text>
</svg></body></html>
